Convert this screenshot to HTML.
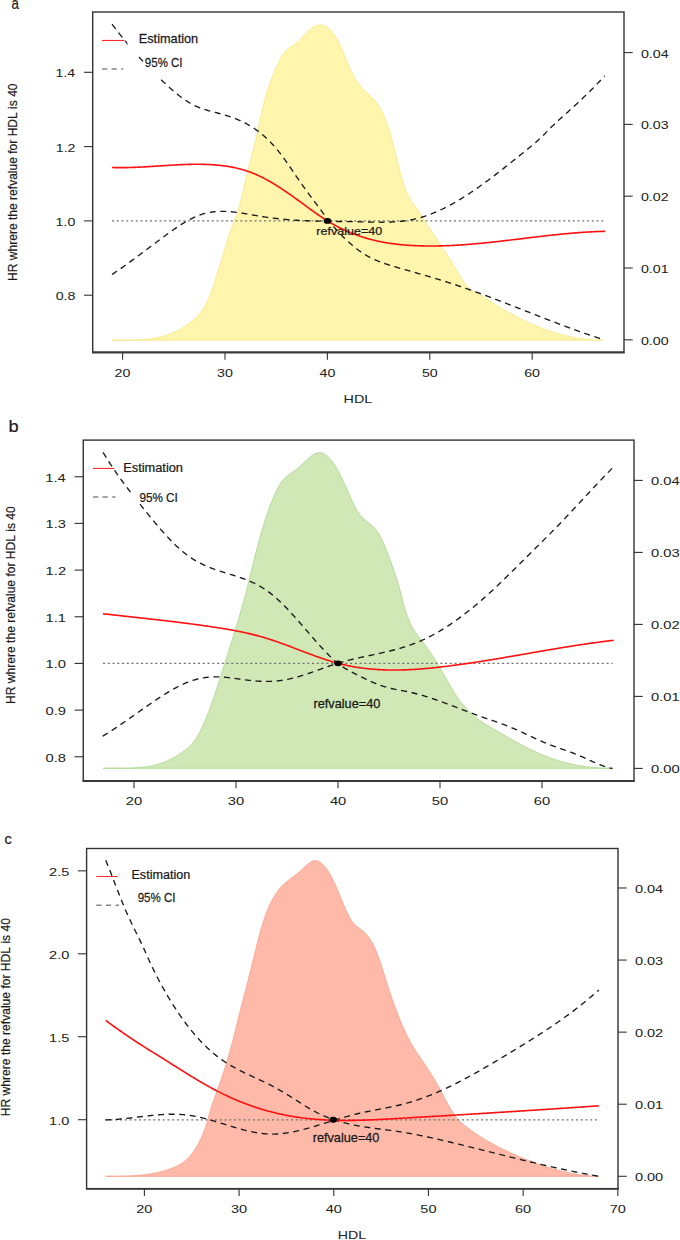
<!DOCTYPE html>
<html><head><meta charset="utf-8"><style>
html,body{margin:0;padding:0;background:#fff;overflow:hidden;width:680px;height:1240px;}
svg{display:block;}
text{font-family:"Liberation Sans",sans-serif;font-kerning:none;}
</style></head><body>
<svg width="680" height="1240" viewBox="0 0 680 1240">
<defs><mask id="ma" maskUnits="userSpaceOnUse" x="0" y="0" width="680" height="1240"><rect x="0" y="0" width="680" height="1240" fill="#fff"/><rect x="127.5" y="28" width="72.5" height="26.299999999999997" fill="#000"/><rect x="144.5" y="54.5" width="40.5" height="24.0" fill="#000"/></mask><mask id="mb" maskUnits="userSpaceOnUse" x="0" y="0" width="680" height="1240"><rect x="0" y="0" width="680" height="1240" fill="#fff"/><rect x="131.8" y="488" width="58.19999999999999" height="15.399999999999977" fill="#000"/></mask></defs>
<rect x="0" y="0" width="680" height="1240" fill="#fff"/>
<path d="M112.00,340.20 L112.50,340.20 L113.00,340.19 L113.50,340.19 L114.00,340.19 L114.50,340.19 L115.00,340.19 L115.50,340.19 L116.00,340.19 L116.50,340.19 L117.00,340.19 L117.50,340.19 L118.00,340.19 L118.50,340.19 L119.00,340.19 L119.50,340.19 L120.00,340.20 L120.50,340.20 L121.00,340.20 L121.50,340.20 L122.00,340.20 L122.50,340.20 L123.00,340.20 L123.50,340.20 L124.00,340.20 L124.50,340.20 L125.00,340.20 L125.50,340.20 L126.00,340.20 L126.50,340.20 L127.00,340.20 L127.50,340.20 L128.00,340.20 L128.50,340.20 L129.00,340.19 L129.50,340.19 L130.00,340.18 L130.50,340.17 L131.00,340.17 L131.50,340.16 L132.00,340.15 L132.50,340.14 L133.00,340.13 L133.50,340.12 L134.00,340.11 L134.50,340.09 L135.00,340.08 L135.50,340.06 L136.00,340.04 L136.50,340.03 L137.00,340.01 L137.50,339.99 L138.00,339.96 L138.50,339.94 L139.00,339.91 L139.50,339.89 L140.00,339.86 L140.50,339.83 L141.00,339.80 L141.50,339.76 L142.00,339.73 L142.50,339.69 L143.00,339.66 L143.50,339.62 L144.00,339.57 L144.50,339.53 L145.00,339.49 L145.50,339.44 L146.00,339.39 L146.50,339.34 L147.00,339.28 L147.50,339.23 L148.00,339.17 L148.50,339.11 L149.00,339.05 L149.50,338.98 L150.00,338.92 L150.50,338.85 L151.00,338.78 L151.50,338.70 L152.00,338.63 L152.50,338.55 L153.00,338.47 L153.50,338.39 L154.00,338.30 L154.50,338.21 L155.00,338.12 L155.50,338.02 L156.00,337.93 L156.50,337.83 L157.00,337.73 L157.50,337.62 L158.00,337.51 L158.50,337.40 L159.00,337.29 L159.50,337.17 L160.00,337.05 L160.50,336.92 L161.00,336.80 L161.50,336.67 L162.00,336.53 L162.50,336.40 L163.00,336.26 L163.50,336.11 L164.00,335.97 L164.50,335.82 L165.00,335.67 L165.50,335.51 L166.00,335.35 L166.50,335.18 L167.00,335.02 L167.50,334.85 L168.00,334.67 L168.50,334.49 L169.00,334.31 L169.50,334.12 L170.00,333.93 L170.50,333.74 L171.00,333.54 L171.50,333.34 L172.00,333.13 L172.50,332.92 L173.00,332.71 L173.50,332.49 L174.00,332.27 L174.50,332.04 L175.00,331.81 L175.50,331.58 L176.00,331.34 L176.50,331.10 L177.00,330.85 L177.50,330.59 L178.00,330.34 L178.50,330.08 L179.00,329.81 L179.50,329.54 L180.00,329.26 L180.50,328.98 L181.00,328.70 L181.50,328.41 L182.00,328.12 L182.50,327.82 L183.00,327.51 L183.50,327.21 L184.00,326.89 L184.50,326.57 L185.00,326.25 L185.50,325.92 L186.00,325.59 L186.50,325.25 L187.00,324.90 L187.50,324.55 L188.00,324.20 L188.50,323.84 L189.00,323.47 L189.50,323.10 L190.00,322.73 L190.50,322.35 L191.00,321.96 L191.50,321.57 L192.00,321.17 L192.50,320.76 L193.00,320.35 L193.50,319.92 L194.00,319.49 L194.50,319.04 L195.00,318.58 L195.50,318.11 L196.00,317.63 L196.50,317.13 L197.00,316.62 L197.50,316.09 L198.00,315.54 L198.50,314.98 L199.00,314.40 L199.50,313.79 L200.00,313.17 L200.50,312.52 L201.00,311.86 L201.50,311.16 L202.00,310.45 L202.50,309.71 L203.00,308.94 L203.50,308.15 L204.00,307.33 L204.50,306.48 L205.00,305.60 L205.50,304.69 L206.00,303.75 L206.50,302.78 L207.00,301.78 L207.50,300.74 L208.00,299.66 L208.50,298.56 L209.00,297.41 L209.50,296.23 L210.00,295.01 L210.50,293.75 L211.00,292.45 L211.50,291.13 L212.00,289.76 L212.50,288.37 L213.00,286.95 L213.50,285.50 L214.00,284.03 L214.50,282.53 L215.00,281.00 L215.50,279.46 L216.00,277.90 L216.50,276.31 L217.00,274.72 L217.50,273.11 L218.00,271.48 L218.50,269.84 L219.00,268.20 L219.50,266.54 L220.00,264.88 L220.50,263.22 L221.00,261.55 L221.50,259.87 L222.00,258.20 L222.50,256.53 L223.00,254.86 L223.50,253.19 L224.00,251.53 L224.50,249.88 L225.00,248.24 L225.50,246.60 L226.00,244.98 L226.50,243.37 L227.00,241.77 L227.50,240.19 L228.00,238.63 L228.50,237.08 L229.00,235.56 L229.50,234.05 L230.00,232.57 L230.50,231.11 L231.00,229.68 L231.50,228.28 L232.00,226.90 L232.50,225.55 L233.00,224.23 L233.50,222.93 L234.00,221.65 L234.50,220.36 L235.00,219.07 L235.50,217.77 L236.00,216.45 L236.50,215.09 L237.00,213.70 L237.50,212.25 L238.00,210.75 L238.50,209.19 L239.00,207.55 L239.50,205.83 L240.00,204.02 L240.50,202.12 L241.00,200.14 L241.50,198.09 L242.00,195.98 L242.50,193.83 L243.00,191.65 L243.50,189.44 L244.00,187.22 L244.50,185.01 L245.00,182.81 L245.50,180.62 L246.00,178.47 L246.50,176.35 L247.00,174.28 L247.50,172.25 L248.00,170.27 L248.50,168.31 L249.00,166.39 L249.50,164.48 L250.00,162.58 L250.50,160.69 L251.00,158.80 L251.50,156.90 L252.00,154.99 L252.50,153.05 L253.00,151.09 L253.50,149.11 L254.00,147.09 L254.50,145.05 L255.00,142.98 L255.50,140.87 L256.00,138.73 L256.50,136.55 L257.00,134.33 L257.50,132.07 L258.00,129.78 L258.50,127.45 L259.00,125.09 L259.50,122.73 L260.00,120.36 L260.50,118.01 L261.00,115.69 L261.50,113.39 L262.00,111.14 L262.50,108.95 L263.00,106.83 L263.50,104.77 L264.00,102.79 L264.50,100.86 L265.00,98.99 L265.50,97.18 L266.00,95.43 L266.50,93.73 L267.00,92.08 L267.50,90.47 L268.00,88.91 L268.50,87.39 L269.00,85.90 L269.50,84.46 L270.00,83.04 L270.50,81.66 L271.00,80.30 L271.50,78.97 L272.00,77.66 L272.50,76.37 L273.00,75.09 L273.50,73.84 L274.00,72.60 L274.50,71.38 L275.00,70.19 L275.50,69.01 L276.00,67.86 L276.50,66.73 L277.00,65.63 L277.50,64.55 L278.00,63.49 L278.50,62.46 L279.00,61.46 L279.50,60.49 L280.00,59.55 L280.50,58.64 L281.00,57.75 L281.50,56.90 L282.00,56.09 L282.50,55.30 L283.00,54.56 L283.50,53.84 L284.00,53.16 L284.50,52.52 L285.00,51.92 L285.50,51.35 L286.00,50.81 L286.50,50.29 L287.00,49.81 L287.50,49.35 L288.00,48.91 L288.50,48.49 L289.00,48.10 L289.50,47.71 L290.00,47.34 L290.50,46.99 L291.00,46.64 L291.50,46.30 L292.00,45.96 L292.50,45.63 L293.00,45.30 L293.50,44.96 L294.00,44.63 L294.50,44.29 L295.00,43.94 L295.50,43.58 L296.00,43.21 L296.50,42.82 L297.00,42.42 L297.50,42.00 L298.00,41.56 L298.50,41.11 L299.00,40.64 L299.50,40.16 L300.00,39.66 L300.50,39.16 L301.00,38.64 L301.50,38.12 L302.00,37.60 L302.50,37.07 L303.00,36.53 L303.50,36.00 L304.00,35.46 L304.50,34.93 L305.00,34.40 L305.50,33.87 L306.00,33.36 L306.50,32.84 L307.00,32.34 L307.50,31.85 L308.00,31.37 L308.50,30.90 L309.00,30.45 L309.50,30.02 L310.00,29.60 L310.50,29.20 L311.00,28.81 L311.50,28.44 L312.00,28.09 L312.50,27.76 L313.00,27.45 L313.50,27.15 L314.00,26.88 L314.50,26.62 L315.00,26.38 L315.50,26.16 L316.00,25.96 L316.50,25.78 L317.00,25.62 L317.50,25.48 L318.00,25.37 L318.50,25.27 L319.00,25.20 L319.50,25.14 L320.00,25.11 L320.50,25.11 L321.00,25.12 L321.50,25.16 L322.00,25.22 L322.50,25.31 L323.00,25.42 L323.50,25.55 L324.00,25.71 L324.50,25.89 L325.00,26.10 L325.50,26.33 L326.00,26.59 L326.50,26.87 L327.00,27.18 L327.50,27.52 L328.00,27.89 L328.50,28.28 L329.00,28.70 L329.50,29.14 L330.00,29.62 L330.50,30.12 L331.00,30.65 L331.50,31.21 L332.00,31.80 L332.50,32.42 L333.00,33.06 L333.50,33.74 L334.00,34.45 L334.50,35.19 L335.00,35.96 L335.50,36.76 L336.00,37.59 L336.50,38.46 L337.00,39.35 L337.50,40.28 L338.00,41.23 L338.50,42.21 L339.00,43.22 L339.50,44.25 L340.00,45.30 L340.50,46.37 L341.00,47.46 L341.50,48.57 L342.00,49.69 L342.50,50.82 L343.00,51.97 L343.50,53.12 L344.00,54.28 L344.50,55.45 L345.00,56.63 L345.50,57.80 L346.00,58.98 L346.50,60.15 L347.00,61.33 L347.50,62.50 L348.00,63.66 L348.50,64.81 L349.00,65.96 L349.50,67.10 L350.00,68.22 L350.50,69.32 L351.00,70.42 L351.50,71.49 L352.00,72.54 L352.50,73.57 L353.00,74.58 L353.50,75.57 L354.00,76.52 L354.50,77.45 L355.00,78.35 L355.50,79.22 L356.00,80.05 L356.50,80.86 L357.00,81.63 L357.50,82.37 L358.00,83.09 L358.50,83.79 L359.00,84.45 L359.50,85.10 L360.00,85.72 L360.50,86.33 L361.00,86.91 L361.50,87.48 L362.00,88.03 L362.50,88.56 L363.00,89.08 L363.50,89.59 L364.00,90.09 L364.50,90.58 L365.00,91.06 L365.50,91.53 L366.00,91.99 L366.50,92.46 L367.00,92.92 L367.50,93.37 L368.00,93.83 L368.50,94.29 L369.00,94.75 L369.50,95.21 L370.00,95.68 L370.50,96.15 L371.00,96.63 L371.50,97.12 L372.00,97.63 L372.50,98.14 L373.00,98.66 L373.50,99.20 L374.00,99.76 L374.50,100.33 L375.00,100.92 L375.50,101.53 L376.00,102.16 L376.50,102.81 L377.00,103.48 L377.50,104.18 L378.00,104.91 L378.50,105.66 L379.00,106.45 L379.50,107.26 L380.00,108.10 L380.50,108.98 L381.00,109.89 L381.50,110.83 L382.00,111.82 L382.50,112.84 L383.00,113.90 L383.50,115.00 L384.00,116.14 L384.50,117.33 L385.00,118.55 L385.50,119.82 L386.00,121.14 L386.50,122.49 L387.00,123.89 L387.50,125.34 L388.00,126.82 L388.50,128.36 L389.00,129.93 L389.50,131.55 L390.00,133.22 L390.50,134.93 L391.00,136.69 L391.50,138.49 L392.00,140.34 L392.50,142.23 L393.00,144.16 L393.50,146.12 L394.00,148.11 L394.50,150.11 L395.00,152.14 L395.50,154.17 L396.00,156.20 L396.50,158.23 L397.00,160.25 L397.50,162.26 L398.00,164.25 L398.50,166.21 L399.00,168.15 L399.50,170.05 L400.00,171.92 L400.50,173.76 L401.00,175.56 L401.50,177.31 L402.00,179.02 L402.50,180.69 L403.00,182.30 L403.50,183.87 L404.00,185.37 L404.50,186.82 L405.00,188.21 L405.50,189.53 L406.00,190.79 L406.50,191.99 L407.00,193.12 L407.50,194.20 L408.00,195.22 L408.50,196.20 L409.00,197.13 L409.50,198.02 L410.00,198.88 L410.50,199.70 L411.00,200.48 L411.50,201.25 L412.00,201.99 L412.50,202.71 L413.00,203.42 L413.50,204.11 L414.00,204.80 L414.50,205.48 L415.00,206.15 L415.50,206.83 L416.00,207.51 L416.50,208.20 L417.00,208.90 L417.50,209.62 L418.00,210.35 L418.50,211.09 L419.00,211.84 L419.50,212.60 L420.00,213.38 L420.50,214.16 L421.00,214.94 L421.50,215.73 L422.00,216.52 L422.50,217.32 L423.00,218.12 L423.50,218.91 L424.00,219.70 L424.50,220.50 L425.00,221.28 L425.50,222.06 L426.00,222.84 L426.50,223.62 L427.00,224.40 L427.50,225.17 L428.00,225.93 L428.50,226.70 L429.00,227.46 L429.50,228.23 L430.00,228.98 L430.50,229.74 L431.00,230.50 L431.50,231.25 L432.00,232.01 L432.50,232.76 L433.00,233.51 L433.50,234.26 L434.00,235.01 L434.50,235.75 L435.00,236.50 L435.50,237.25 L436.00,238.00 L436.50,238.74 L437.00,239.49 L437.50,240.24 L438.00,240.99 L438.50,241.74 L439.00,242.49 L439.50,243.24 L440.00,243.99 L440.50,244.74 L441.00,245.49 L441.50,246.25 L442.00,247.01 L442.50,247.76 L443.00,248.53 L443.50,249.29 L444.00,250.05 L444.50,250.82 L445.00,251.59 L445.50,252.37 L446.00,253.14 L446.50,253.92 L447.00,254.70 L447.50,255.49 L448.00,256.28 L448.50,257.07 L449.00,257.87 L449.50,258.67 L450.00,259.47 L450.50,260.28 L451.00,261.10 L451.50,261.91 L452.00,262.74 L452.50,263.56 L453.00,264.40 L453.50,265.24 L454.00,266.08 L454.50,266.93 L455.00,267.78 L455.50,268.63 L456.00,269.48 L456.50,270.34 L457.00,271.19 L457.50,272.03 L458.00,272.88 L458.50,273.72 L459.00,274.55 L459.50,275.38 L460.00,276.20 L460.50,277.00 L461.00,277.80 L461.50,278.59 L462.00,279.36 L462.50,280.12 L463.00,280.86 L463.50,281.59 L464.00,282.29 L464.50,282.98 L465.00,283.65 L465.50,284.30 L466.00,284.93 L466.50,285.53 L467.00,286.11 L467.50,286.66 L468.00,287.19 L468.50,287.68 L469.00,288.15 L469.50,288.60 L470.00,289.02 L470.50,289.41 L471.00,289.79 L471.50,290.14 L472.00,290.48 L472.50,290.80 L473.00,291.11 L473.50,291.40 L474.00,291.68 L474.50,291.95 L475.00,292.22 L475.50,292.47 L476.00,292.72 L476.50,292.97 L477.00,293.21 L477.50,293.45 L478.00,293.70 L478.50,293.94 L479.00,294.19 L479.50,294.45 L480.00,294.71 L480.50,294.98 L481.00,295.26 L481.50,295.55 L482.00,295.85 L482.50,296.15 L483.00,296.45 L483.50,296.76 L484.00,297.08 L484.50,297.40 L485.00,297.73 L485.50,298.05 L486.00,298.38 L486.50,298.71 L487.00,299.05 L487.50,299.38 L488.00,299.71 L488.50,300.04 L489.00,300.37 L489.50,300.70 L490.00,301.03 L490.50,301.36 L491.00,301.68 L491.50,302.01 L492.00,302.33 L492.50,302.66 L493.00,302.98 L493.50,303.30 L494.00,303.62 L494.50,303.93 L495.00,304.25 L495.50,304.56 L496.00,304.88 L496.50,305.19 L497.00,305.50 L497.50,305.81 L498.00,306.12 L498.50,306.43 L499.00,306.74 L499.50,307.04 L500.00,307.34 L500.50,307.65 L501.00,307.95 L501.50,308.25 L502.00,308.55 L502.50,308.84 L503.00,309.14 L503.50,309.44 L504.00,309.73 L504.50,310.02 L505.00,310.31 L505.50,310.60 L506.00,310.89 L506.50,311.18 L507.00,311.47 L507.50,311.75 L508.00,312.03 L508.50,312.32 L509.00,312.60 L509.50,312.88 L510.00,313.15 L510.50,313.43 L511.00,313.71 L511.50,313.98 L512.00,314.26 L512.50,314.53 L513.00,314.80 L513.50,315.07 L514.00,315.33 L514.50,315.60 L515.00,315.87 L515.50,316.13 L516.00,316.39 L516.50,316.65 L517.00,316.91 L517.50,317.17 L518.00,317.43 L518.50,317.69 L519.00,317.94 L519.50,318.20 L520.00,318.45 L520.50,318.70 L521.00,318.95 L521.50,319.20 L522.00,319.44 L522.50,319.69 L523.00,319.93 L523.50,320.17 L524.00,320.42 L524.50,320.66 L525.00,320.89 L525.50,321.13 L526.00,321.37 L526.50,321.60 L527.00,321.83 L527.50,322.07 L528.00,322.30 L528.50,322.53 L529.00,322.75 L529.50,322.98 L530.00,323.20 L530.50,323.43 L531.00,323.65 L531.50,323.87 L532.00,324.09 L532.50,324.31 L533.00,324.53 L533.50,324.74 L534.00,324.95 L534.50,325.17 L535.00,325.38 L535.50,325.59 L536.00,325.80 L536.50,326.00 L537.00,326.21 L537.50,326.41 L538.00,326.62 L538.50,326.82 L539.00,327.02 L539.50,327.21 L540.00,327.41 L540.50,327.61 L541.00,327.80 L541.50,327.99 L542.00,328.19 L542.50,328.38 L543.00,328.56 L543.50,328.75 L544.00,328.94 L544.50,329.12 L545.00,329.30 L545.50,329.48 L546.00,329.66 L546.50,329.84 L547.00,330.02 L547.50,330.20 L548.00,330.37 L548.50,330.54 L549.00,330.71 L549.50,330.88 L550.00,331.05 L550.50,331.22 L551.00,331.38 L551.50,331.55 L552.00,331.71 L552.50,331.87 L553.00,332.03 L553.50,332.19 L554.00,332.34 L554.50,332.50 L555.00,332.65 L555.50,332.80 L556.00,332.96 L556.50,333.10 L557.00,333.25 L557.50,333.40 L558.00,333.54 L558.50,333.69 L559.00,333.83 L559.50,333.97 L560.00,334.11 L560.50,334.24 L561.00,334.38 L561.50,334.51 L562.00,334.65 L562.50,334.78 L563.00,334.91 L563.50,335.03 L564.00,335.16 L564.50,335.29 L565.00,335.41 L565.50,335.53 L566.00,335.65 L566.50,335.77 L567.00,335.89 L567.50,336.00 L568.00,336.12 L568.50,336.23 L569.00,336.34 L569.50,336.45 L570.00,336.56 L570.50,336.67 L571.00,336.77 L571.50,336.88 L572.00,336.98 L572.50,337.08 L573.00,337.18 L573.50,337.28 L574.00,337.37 L574.50,337.47 L575.00,337.56 L575.50,337.65 L576.00,337.74 L576.50,337.83 L577.00,337.91 L577.50,338.00 L578.00,338.08 L578.50,338.16 L579.00,338.24 L579.50,338.32 L580.00,338.40 L580.50,338.48 L581.00,338.55 L581.50,338.62 L582.00,338.69 L582.50,338.76 L583.00,338.83 L583.50,338.89 L584.00,338.96 L584.50,339.02 L585.00,339.08 L585.50,339.14 L586.00,339.20 L586.50,339.26 L587.00,339.31 L587.50,339.36 L588.00,339.42 L588.50,339.47 L589.00,339.51 L589.50,339.56 L590.00,339.61 L590.50,339.65 L591.00,339.69 L591.50,339.73 L592.00,339.77 L592.50,339.81 L593.00,339.84 L593.50,339.87 L594.00,339.91 L594.50,339.94 L595.00,339.97 L595.50,339.99 L596.00,340.02 L596.50,340.04 L597.00,340.06 L597.50,340.08 L598.00,340.10 L598.50,340.12 L599.00,340.14 L599.50,340.15 L600.00,340.16 L600.50,340.17 L601.00,340.18 L601.50,340.19 L602.00,340.19 L602.50,340.20 L603.00,340.20 L603.00,340.20 L112.00,340.20 Z" fill="#fff5ad" stroke="#f6e67e" stroke-width="0.8"/>
<line x1="112" y1="220.9" x2="604" y2="220.9" stroke="#747474" stroke-width="1.25" stroke-dasharray="2.1 2.65"/>
<path d="M112.10,24.21 L113.10,25.55 L114.10,26.87 L115.11,28.19 L116.11,29.50 L117.11,30.80 L118.11,32.09 L119.11,33.37 L120.11,34.64 L121.12,35.90 L122.12,37.15 L123.12,38.39 L124.12,39.63 L125.12,40.85 L126.13,42.07 L127.13,43.28 L128.13,44.48 L129.13,45.67 L130.13,46.86 L131.13,48.03 L132.14,49.20 L133.14,50.35 L134.14,51.51 L135.14,52.65 L136.14,53.78 L137.15,54.91 L138.15,56.03 L139.15,57.14 L140.15,58.24 L141.15,59.34 L142.16,60.42 L143.16,61.51 L144.16,62.58 L145.16,63.65 L146.16,64.70 L147.16,65.76 L148.17,66.80 L149.17,67.84 L150.17,68.87 L151.17,69.90 L152.17,70.91 L153.18,71.92 L154.18,72.93 L155.18,73.93 L156.18,74.92 L157.18,75.90 L158.18,76.88 L159.19,77.86 L160.19,78.82 L161.19,79.78 L162.19,80.74 L163.19,81.69 L164.20,82.63 L165.20,83.57 L166.20,84.50 L167.20,85.42 L168.20,86.34 L169.20,87.25 L170.21,88.15 L171.21,89.04 L172.21,89.92 L173.21,90.79 L174.21,91.64 L175.22,92.49 L176.22,93.32 L177.22,94.14 L178.22,94.94 L179.22,95.73 L180.22,96.50 L181.23,97.26 L182.23,98.00 L183.23,98.72 L184.23,99.43 L185.23,100.11 L186.24,100.78 L187.24,101.43 L188.24,102.05 L189.24,102.66 L190.24,103.24 L191.25,103.80 L192.25,104.34 L193.25,104.85 L194.25,105.35 L195.25,105.82 L196.25,106.27 L197.26,106.71 L198.26,107.13 L199.26,107.53 L200.26,107.91 L201.26,108.28 L202.27,108.64 L203.27,108.98 L204.27,109.32 L205.27,109.64 L206.27,109.95 L207.27,110.25 L208.28,110.54 L209.28,110.83 L210.28,111.11 L211.28,111.39 L212.28,111.66 L213.29,111.93 L214.29,112.19 L215.29,112.45 L216.29,112.72 L217.29,112.98 L218.29,113.24 L219.30,113.51 L220.30,113.78 L221.30,114.05 L222.30,114.33 L223.30,114.62 L224.31,114.91 L225.31,115.20 L226.31,115.51 L227.31,115.82 L228.31,116.14 L229.31,116.47 L230.32,116.81 L231.32,117.15 L232.32,117.51 L233.32,117.87 L234.32,118.25 L235.33,118.63 L236.33,119.03 L237.33,119.44 L238.33,119.86 L239.33,120.30 L240.34,120.74 L241.34,121.20 L242.34,121.67 L243.34,122.16 L244.34,122.66 L245.34,123.18 L246.35,123.71 L247.35,124.26 L248.35,124.82 L249.35,125.40 L250.35,125.99 L251.36,126.61 L252.36,127.24 L253.36,127.89 L254.36,128.55 L255.36,129.24 L256.36,129.94 L257.37,130.67 L258.37,131.41 L259.37,132.18 L260.37,132.97 L261.37,133.77 L262.38,134.60 L263.38,135.45 L264.38,136.33 L265.38,137.22 L266.38,138.14 L267.38,139.09 L268.39,140.05 L269.39,141.05 L270.39,142.06 L271.39,143.10 L272.39,144.17 L273.40,145.27 L274.40,146.39 L275.40,147.53 L276.40,148.71 L277.40,149.91 L278.40,151.14 L279.41,152.40 L280.41,153.69 L281.41,155.00 L282.41,156.34 L283.41,157.70 L284.42,159.08 L285.42,160.48 L286.42,161.89 L287.42,163.32 L288.42,164.76 L289.43,166.22 L290.43,167.68 L291.43,169.14 L292.43,170.61 L293.43,172.09 L294.43,173.56 L295.44,175.04 L296.44,176.51 L297.44,177.97 L298.44,179.43 L299.44,180.87 L300.45,182.31 L301.45,183.73 L302.45,185.15 L303.45,186.55 L304.45,187.94 L305.45,189.33 L306.46,190.70 L307.46,192.07 L308.46,193.44 L309.46,194.79 L310.46,196.15 L311.47,197.50 L312.47,198.84 L313.47,200.19 L314.47,201.53 L315.47,202.87 L316.47,204.22 L317.48,205.56 L318.48,206.91 L319.48,208.26 L320.48,209.61 L321.48,210.97 L322.49,212.33 L323.49,213.69 L324.49,215.05 L325.49,216.40 L326.49,217.74 L327.49,219.06 L328.50,220.36 L329.50,221.64 L330.50,222.89 L331.50,224.12 L332.50,225.33 L333.51,226.50 L334.51,227.65 L335.51,228.78 L336.51,229.89 L337.51,230.98 L338.52,232.05 L339.52,233.10 L340.52,234.14 L341.52,235.17 L342.52,236.18 L343.52,237.17 L344.53,238.16 L345.53,239.12 L346.53,240.08 L347.53,241.01 L348.53,241.94 L349.54,242.84 L350.54,243.73 L351.54,244.61 L352.54,245.46 L353.54,246.30 L354.54,247.12 L355.55,247.93 L356.55,248.71 L357.55,249.48 L358.55,250.23 L359.55,250.96 L360.56,251.67 L361.56,252.36 L362.56,253.03 L363.56,253.68 L364.56,254.31 L365.56,254.92 L366.57,255.51 L367.57,256.08 L368.57,256.64 L369.57,257.17 L370.57,257.69 L371.58,258.19 L372.58,258.68 L373.58,259.15 L374.58,259.61 L375.58,260.05 L376.58,260.48 L377.59,260.90 L378.59,261.30 L379.59,261.70 L380.59,262.08 L381.59,262.45 L382.60,262.81 L383.60,263.17 L384.60,263.51 L385.60,263.85 L386.60,264.18 L387.61,264.51 L388.61,264.82 L389.61,265.14 L390.61,265.45 L391.61,265.75 L392.61,266.05 L393.62,266.35 L394.62,266.65 L395.62,266.94 L396.62,267.23 L397.62,267.53 L398.63,267.82 L399.63,268.11 L400.63,268.40 L401.63,268.69 L402.63,268.98 L403.63,269.27 L404.64,269.55 L405.64,269.84 L406.64,270.13 L407.64,270.42 L408.64,270.70 L409.65,270.99 L410.65,271.28 L411.65,271.56 L412.65,271.85 L413.65,272.13 L414.65,272.42 L415.66,272.71 L416.66,272.99 L417.66,273.28 L418.66,273.57 L419.66,273.85 L420.67,274.14 L421.67,274.43 L422.67,274.72 L423.67,275.01 L424.67,275.30 L425.67,275.59 L426.68,275.88 L427.68,276.17 L428.68,276.47 L429.68,276.76 L430.68,277.06 L431.69,277.35 L432.69,277.65 L433.69,277.95 L434.69,278.25 L435.69,278.55 L436.70,278.85 L437.70,279.15 L438.70,279.46 L439.70,279.76 L440.70,280.07 L441.70,280.38 L442.71,280.69 L443.71,281.01 L444.71,281.32 L445.71,281.64 L446.71,281.95 L447.72,282.27 L448.72,282.60 L449.72,282.92 L450.72,283.25 L451.72,283.57 L452.72,283.90 L453.73,284.23 L454.73,284.57 L455.73,284.90 L456.73,285.24 L457.73,285.57 L458.74,285.91 L459.74,286.25 L460.74,286.60 L461.74,286.94 L462.74,287.28 L463.74,287.63 L464.75,287.98 L465.75,288.33 L466.75,288.68 L467.75,289.03 L468.75,289.39 L469.76,289.74 L470.76,290.10 L471.76,290.46 L472.76,290.82 L473.76,291.18 L474.76,291.54 L475.77,291.90 L476.77,292.27 L477.77,292.63 L478.77,293.00 L479.77,293.36 L480.78,293.73 L481.78,294.10 L482.78,294.47 L483.78,294.85 L484.78,295.22 L485.79,295.59 L486.79,295.97 L487.79,296.34 L488.79,296.72 L489.79,297.10 L490.79,297.47 L491.80,297.85 L492.80,298.23 L493.80,298.61 L494.80,299.00 L495.80,299.38 L496.81,299.76 L497.81,300.14 L498.81,300.53 L499.81,300.91 L500.81,301.30 L501.81,301.68 L502.82,302.07 L503.82,302.46 L504.82,302.85 L505.82,303.23 L506.82,303.62 L507.83,304.01 L508.83,304.40 L509.83,304.79 L510.83,305.18 L511.83,305.57 L512.83,305.96 L513.84,306.35 L514.84,306.75 L515.84,307.14 L516.84,307.53 L517.84,307.92 L518.85,308.31 L519.85,308.71 L520.85,309.10 L521.85,309.49 L522.85,309.88 L523.85,310.28 L524.86,310.67 L525.86,311.06 L526.86,311.46 L527.86,311.85 L528.86,312.24 L529.87,312.64 L530.87,313.03 L531.87,313.42 L532.87,313.81 L533.87,314.21 L534.88,314.60 L535.88,314.99 L536.88,315.38 L537.88,315.77 L538.88,316.16 L539.88,316.55 L540.89,316.95 L541.89,317.34 L542.89,317.73 L543.89,318.11 L544.89,318.50 L545.90,318.89 L546.90,319.28 L547.90,319.67 L548.90,320.05 L549.90,320.44 L550.90,320.83 L551.91,321.21 L552.91,321.60 L553.91,321.98 L554.91,322.36 L555.91,322.74 L556.92,323.13 L557.92,323.51 L558.92,323.89 L559.92,324.27 L560.92,324.65 L561.92,325.02 L562.93,325.40 L563.93,325.78 L564.93,326.15 L565.93,326.53 L566.93,326.90 L567.94,327.27 L568.94,327.64 L569.94,328.01 L570.94,328.38 L571.94,328.75 L572.94,329.12 L573.95,329.48 L574.95,329.85 L575.95,330.21 L576.95,330.57 L577.95,330.93 L578.96,331.29 L579.96,331.65 L580.96,332.01 L581.96,332.37 L582.96,332.72 L583.97,333.07 L584.97,333.43 L585.97,333.78 L586.97,334.13 L587.97,334.47 L588.97,334.82 L589.98,335.16 L590.98,335.51 L591.98,335.85 L592.98,336.19 L593.98,336.53 L594.99,336.86 L595.99,337.20 L596.99,337.53 L597.99,337.86 L598.99,338.19 L599.99,338.52 L601.00,338.85 L602.00,339.17 L603.00,339.50" fill="none" stroke="#1a1a1a" stroke-width="1.35" stroke-dasharray="6 4.6" mask="url(#ma)"/>
<path d="M112.00,274.50 L113.00,273.83 L114.00,273.16 L115.00,272.49 L116.01,271.81 L117.01,271.12 L118.01,270.43 L119.01,269.74 L120.01,269.04 L121.01,268.34 L122.01,267.64 L123.02,266.93 L124.02,266.22 L125.02,265.50 L126.02,264.78 L127.02,264.06 L128.02,263.34 L129.02,262.61 L130.03,261.88 L131.03,261.15 L132.03,260.41 L133.03,259.67 L134.03,258.93 L135.03,258.19 L136.03,257.45 L137.04,256.71 L138.04,255.96 L139.04,255.21 L140.04,254.46 L141.04,253.71 L142.04,252.96 L143.04,252.21 L144.05,251.46 L145.05,250.70 L146.05,249.95 L147.05,249.20 L148.05,248.44 L149.05,247.69 L150.05,246.93 L151.06,246.18 L152.06,245.43 L153.06,244.67 L154.06,243.92 L155.06,243.17 L156.06,242.42 L157.06,241.67 L158.07,240.93 L159.07,240.18 L160.07,239.43 L161.07,238.69 L162.07,237.95 L163.07,237.21 L164.07,236.47 L165.08,235.74 L166.08,235.01 L167.08,234.28 L168.08,233.55 L169.08,232.82 L170.08,232.10 L171.08,231.39 L172.09,230.68 L173.09,229.97 L174.09,229.27 L175.09,228.58 L176.09,227.89 L177.09,227.21 L178.09,226.54 L179.10,225.88 L180.10,225.22 L181.10,224.58 L182.10,223.94 L183.10,223.32 L184.10,222.71 L185.10,222.11 L186.11,221.52 L187.11,220.95 L188.11,220.38 L189.11,219.84 L190.11,219.30 L191.11,218.78 L192.11,218.28 L193.12,217.79 L194.12,217.32 L195.12,216.87 L196.12,216.43 L197.12,216.01 L198.12,215.61 L199.12,215.23 L200.13,214.87 L201.13,214.53 L202.13,214.21 L203.13,213.91 L204.13,213.63 L205.13,213.36 L206.13,213.12 L207.14,212.89 L208.14,212.68 L209.14,212.48 L210.14,212.31 L211.14,212.15 L212.14,212.00 L213.14,211.87 L214.15,211.76 L215.15,211.66 L216.15,211.57 L217.15,211.50 L218.15,211.45 L219.15,211.40 L220.15,211.37 L221.16,211.35 L222.16,211.35 L223.16,211.35 L224.16,211.37 L225.16,211.39 L226.16,211.43 L227.16,211.48 L228.17,211.54 L229.17,211.61 L230.17,211.68 L231.17,211.77 L232.17,211.86 L233.17,211.96 L234.17,212.07 L235.18,212.18 L236.18,212.31 L237.18,212.43 L238.18,212.57 L239.18,212.71 L240.18,212.85 L241.18,213.00 L242.18,213.16 L243.19,213.32 L244.19,213.48 L245.19,213.64 L246.19,213.81 L247.19,213.98 L248.19,214.16 L249.19,214.33 L250.20,214.51 L251.20,214.68 L252.20,214.86 L253.20,215.04 L254.20,215.22 L255.20,215.39 L256.20,215.57 L257.21,215.74 L258.21,215.92 L259.21,216.09 L260.21,216.26 L261.21,216.42 L262.21,216.58 L263.21,216.74 L264.22,216.90 L265.22,217.05 L266.22,217.20 L267.22,217.34 L268.22,217.48 L269.22,217.62 L270.22,217.75 L271.23,217.89 L272.23,218.01 L273.23,218.14 L274.23,218.26 L275.23,218.38 L276.23,218.49 L277.23,218.60 L278.24,218.71 L279.24,218.82 L280.24,218.92 L281.24,219.02 L282.24,219.12 L283.24,219.21 L284.24,219.30 L285.25,219.39 L286.25,219.48 L287.25,219.56 L288.25,219.64 L289.25,219.72 L290.25,219.80 L291.25,219.87 L292.26,219.95 L293.26,220.01 L294.26,220.08 L295.26,220.15 L296.26,220.21 L297.26,220.27 L298.26,220.33 L299.27,220.38 L300.27,220.44 L301.27,220.49 L302.27,220.54 L303.27,220.59 L304.27,220.64 L305.27,220.68 L306.28,220.73 L307.28,220.77 L308.28,220.81 L309.28,220.85 L310.28,220.88 L311.28,220.92 L312.28,220.95 L313.29,220.99 L314.29,221.02 L315.29,221.05 L316.29,221.08 L317.29,221.10 L318.29,221.13 L319.29,221.16 L320.30,221.18 L321.30,221.20 L322.30,221.23 L323.30,221.25 L324.30,221.27 L325.30,221.29 L326.30,221.31 L327.31,221.33 L328.31,221.34 L329.31,221.36 L330.31,221.38 L331.31,221.39 L332.31,221.41 L333.31,221.42 L334.32,221.44 L335.32,221.45 L336.32,221.47 L337.32,221.48 L338.32,221.49 L339.32,221.51 L340.32,221.52 L341.33,221.53 L342.33,221.54 L343.33,221.56 L344.33,221.57 L345.33,221.58 L346.33,221.60 L347.33,221.61 L348.34,221.62 L349.34,221.64 L350.34,221.65 L351.34,221.67 L352.34,221.68 L353.34,221.70 L354.34,221.71 L355.35,221.73 L356.35,221.75 L357.35,221.77 L358.35,221.78 L359.35,221.80 L360.35,221.82 L361.35,221.84 L362.36,221.87 L363.36,221.89 L364.36,221.91 L365.36,221.94 L366.36,221.96 L367.36,221.98 L368.36,222.01 L369.37,222.03 L370.37,222.05 L371.37,222.08 L372.37,222.10 L373.37,222.12 L374.37,222.13 L375.37,222.15 L376.38,222.16 L377.38,222.18 L378.38,222.19 L379.38,222.19 L380.38,222.20 L381.38,222.20 L382.38,222.20 L383.39,222.19 L384.39,222.18 L385.39,222.17 L386.39,222.15 L387.39,222.13 L388.39,222.10 L389.39,222.07 L390.40,222.04 L391.40,221.99 L392.40,221.95 L393.40,221.90 L394.40,221.84 L395.40,221.77 L396.40,221.70 L397.41,221.63 L398.41,221.54 L399.41,221.45 L400.41,221.36 L401.41,221.25 L402.41,221.14 L403.41,221.02 L404.42,220.89 L405.42,220.75 L406.42,220.61 L407.42,220.46 L408.42,220.29 L409.42,220.12 L410.42,219.94 L411.43,219.75 L412.43,219.55 L413.43,219.34 L414.43,219.12 L415.43,218.89 L416.43,218.65 L417.43,218.40 L418.44,218.14 L419.44,217.87 L420.44,217.58 L421.44,217.29 L422.44,216.99 L423.44,216.68 L424.44,216.36 L425.45,216.03 L426.45,215.69 L427.45,215.34 L428.45,214.98 L429.45,214.61 L430.45,214.23 L431.45,213.84 L432.46,213.45 L433.46,213.04 L434.46,212.63 L435.46,212.21 L436.46,211.77 L437.46,211.34 L438.46,210.89 L439.47,210.43 L440.47,209.97 L441.47,209.49 L442.47,209.01 L443.47,208.53 L444.47,208.03 L445.47,207.52 L446.48,207.01 L447.48,206.49 L448.48,205.97 L449.48,205.43 L450.48,204.89 L451.48,204.34 L452.48,203.79 L453.49,203.23 L454.49,202.66 L455.49,202.08 L456.49,201.50 L457.49,200.91 L458.49,200.31 L459.49,199.71 L460.50,199.10 L461.50,198.49 L462.50,197.87 L463.50,197.24 L464.50,196.61 L465.50,195.97 L466.50,195.33 L467.51,194.68 L468.51,194.03 L469.51,193.37 L470.51,192.70 L471.51,192.03 L472.51,191.35 L473.51,190.67 L474.52,189.99 L475.52,189.30 L476.52,188.60 L477.52,187.90 L478.52,187.20 L479.52,186.49 L480.52,185.78 L481.53,185.06 L482.53,184.34 L483.53,183.61 L484.53,182.88 L485.53,182.15 L486.53,181.41 L487.53,180.67 L488.53,179.93 L489.54,179.18 L490.54,178.43 L491.54,177.67 L492.54,176.92 L493.54,176.15 L494.54,175.39 L495.54,174.62 L496.55,173.86 L497.55,173.08 L498.55,172.31 L499.55,171.53 L500.55,170.75 L501.55,169.97 L502.55,169.19 L503.56,168.40 L504.56,167.61 L505.56,166.82 L506.56,166.03 L507.56,165.24 L508.56,164.44 L509.56,163.65 L510.57,162.85 L511.57,162.05 L512.57,161.25 L513.57,160.45 L514.57,159.65 L515.57,158.84 L516.57,158.04 L517.58,157.23 L518.58,156.43 L519.58,155.62 L520.58,154.81 L521.58,154.01 L522.58,153.20 L523.58,152.39 L524.59,151.59 L525.59,150.78 L526.59,149.97 L527.59,149.15 L528.59,148.34 L529.59,147.51 L530.59,146.69 L531.60,145.85 L532.60,145.01 L533.60,144.16 L534.60,143.30 L535.60,142.42 L536.60,141.54 L537.60,140.64 L538.61,139.73 L539.61,138.80 L540.61,137.86 L541.61,136.90 L542.61,135.92 L543.61,134.92 L544.61,133.91 L545.62,132.88 L546.62,131.85 L547.62,130.82 L548.62,129.81 L549.62,128.81 L550.62,127.82 L551.62,126.84 L552.63,125.88 L553.63,124.92 L554.63,123.98 L555.63,123.04 L556.63,122.11 L557.63,121.19 L558.63,120.27 L559.64,119.36 L560.64,118.45 L561.64,117.55 L562.64,116.65 L563.64,115.74 L564.64,114.84 L565.64,113.94 L566.65,113.04 L567.65,112.13 L568.65,111.23 L569.65,110.32 L570.65,109.41 L571.65,108.49 L572.65,107.58 L573.66,106.66 L574.66,105.74 L575.66,104.82 L576.66,103.89 L577.66,102.96 L578.66,102.03 L579.66,101.09 L580.67,100.15 L581.67,99.20 L582.67,98.26 L583.67,97.30 L584.67,96.34 L585.67,95.38 L586.67,94.41 L587.68,93.44 L588.68,92.46 L589.68,91.47 L590.68,90.48 L591.68,89.49 L592.68,88.48 L593.68,87.47 L594.69,86.46 L595.69,85.44 L596.69,84.41 L597.69,83.37 L598.69,82.33 L599.69,81.28 L600.69,80.22 L601.70,79.15 L602.70,78.07 L603.70,76.99 L604.70,75.90" fill="none" stroke="#1a1a1a" stroke-width="1.35" stroke-dasharray="6 4.6" mask="url(#ma)"/>
<path d="M112.00,167.49 L113.00,167.53 L114.00,167.56 L115.00,167.58 L116.00,167.60 L117.00,167.62 L118.00,167.63 L119.00,167.64 L120.00,167.64 L121.00,167.64 L122.00,167.64 L123.00,167.64 L124.00,167.63 L125.01,167.61 L126.01,167.60 L127.01,167.58 L128.01,167.56 L129.01,167.54 L130.01,167.51 L131.01,167.48 L132.01,167.45 L133.01,167.41 L134.01,167.38 L135.01,167.34 L136.01,167.30 L137.01,167.26 L138.01,167.21 L139.01,167.16 L140.01,167.11 L141.01,167.06 L142.01,167.01 L143.01,166.96 L144.01,166.90 L145.01,166.85 L146.01,166.79 L147.01,166.73 L148.01,166.67 L149.02,166.61 L150.02,166.54 L151.02,166.48 L152.02,166.42 L153.02,166.35 L154.02,166.29 L155.02,166.22 L156.02,166.16 L157.02,166.09 L158.02,166.03 L159.02,165.96 L160.02,165.89 L161.02,165.83 L162.02,165.76 L163.02,165.70 L164.02,165.63 L165.02,165.57 L166.02,165.50 L167.02,165.44 L168.02,165.38 L169.02,165.31 L170.02,165.25 L171.02,165.19 L172.02,165.13 L173.02,165.07 L174.03,165.02 L175.03,164.96 L176.03,164.91 L177.03,164.86 L178.03,164.81 L179.03,164.76 L180.03,164.71 L181.03,164.67 L182.03,164.62 L183.03,164.58 L184.03,164.54 L185.03,164.51 L186.03,164.47 L187.03,164.44 L188.03,164.41 L189.03,164.38 L190.03,164.36 L191.03,164.34 L192.03,164.32 L193.03,164.31 L194.03,164.29 L195.03,164.29 L196.03,164.28 L197.03,164.28 L198.03,164.28 L199.04,164.28 L200.04,164.29 L201.04,164.31 L202.04,164.32 L203.04,164.34 L204.04,164.37 L205.04,164.39 L206.04,164.43 L207.04,164.46 L208.04,164.50 L209.04,164.55 L210.04,164.60 L211.04,164.65 L212.04,164.71 L213.04,164.78 L214.04,164.85 L215.04,164.92 L216.04,165.00 L217.04,165.09 L218.04,165.18 L219.04,165.28 L220.04,165.38 L221.04,165.49 L222.04,165.60 L223.05,165.73 L224.05,165.86 L225.05,165.99 L226.05,166.13 L227.05,166.28 L228.05,166.44 L229.05,166.61 L230.05,166.78 L231.05,166.96 L232.05,167.15 L233.05,167.34 L234.05,167.55 L235.05,167.76 L236.05,167.99 L237.05,168.22 L238.05,168.46 L239.05,168.71 L240.05,168.97 L241.05,169.23 L242.05,169.51 L243.05,169.80 L244.05,170.10 L245.05,170.41 L246.05,170.73 L247.05,171.06 L248.06,171.40 L249.06,171.75 L250.06,172.11 L251.06,172.48 L252.06,172.87 L253.06,173.26 L254.06,173.67 L255.06,174.09 L256.06,174.52 L257.06,174.97 L258.06,175.42 L259.06,175.88 L260.06,176.36 L261.06,176.84 L262.06,177.34 L263.06,177.84 L264.06,178.35 L265.06,178.88 L266.06,179.41 L267.06,179.95 L268.06,180.50 L269.06,181.06 L270.06,181.63 L271.06,182.21 L272.06,182.80 L273.07,183.39 L274.07,183.99 L275.07,184.60 L276.07,185.21 L277.07,185.84 L278.07,186.47 L279.07,187.10 L280.07,187.75 L281.07,188.40 L282.07,189.05 L283.07,189.71 L284.07,190.38 L285.07,191.06 L286.07,191.73 L287.07,192.42 L288.07,193.11 L289.07,193.80 L290.07,194.50 L291.07,195.20 L292.07,195.91 L293.07,196.62 L294.07,197.34 L295.07,198.06 L296.07,198.78 L297.08,199.50 L298.08,200.23 L299.08,200.96 L300.08,201.70 L301.08,202.43 L302.08,203.16 L303.08,203.90 L304.08,204.64 L305.08,205.37 L306.08,206.11 L307.08,206.84 L308.08,207.57 L309.08,208.30 L310.08,209.03 L311.08,209.76 L312.08,210.48 L313.08,211.20 L314.08,211.91 L315.08,212.63 L316.08,213.33 L317.08,214.03 L318.08,214.73 L319.08,215.42 L320.08,216.10 L321.08,216.78 L322.09,217.45 L323.09,218.11 L324.09,218.76 L325.09,219.41 L326.09,220.04 L327.09,220.67 L328.09,221.29 L329.09,221.89 L330.09,222.49 L331.09,223.08 L332.09,223.66 L333.09,224.23 L334.09,224.79 L335.09,225.33 L336.09,225.88 L337.09,226.41 L338.09,226.93 L339.09,227.44 L340.09,227.95 L341.09,228.44 L342.09,228.93 L343.09,229.40 L344.09,229.87 L345.09,230.33 L346.09,230.78 L347.10,231.23 L348.10,231.66 L349.10,232.09 L350.10,232.51 L351.10,232.92 L352.10,233.32 L353.10,233.71 L354.10,234.10 L355.10,234.47 L356.10,234.84 L357.10,235.21 L358.10,235.56 L359.10,235.91 L360.10,236.25 L361.10,236.58 L362.10,236.91 L363.10,237.22 L364.10,237.53 L365.10,237.84 L366.10,238.13 L367.10,238.42 L368.10,238.71 L369.10,238.98 L370.10,239.25 L371.11,239.51 L372.11,239.77 L373.11,240.02 L374.11,240.26 L375.11,240.50 L376.11,240.73 L377.11,240.95 L378.11,241.17 L379.11,241.38 L380.11,241.59 L381.11,241.79 L382.11,241.99 L383.11,242.17 L384.11,242.36 L385.11,242.54 L386.11,242.71 L387.11,242.87 L388.11,243.04 L389.11,243.19 L390.11,243.34 L391.11,243.49 L392.11,243.63 L393.11,243.77 L394.11,243.90 L395.11,244.02 L396.12,244.14 L397.12,244.26 L398.12,244.37 L399.12,244.48 L400.12,244.58 L401.12,244.68 L402.12,244.78 L403.12,244.87 L404.12,244.96 L405.12,245.04 L406.12,245.12 L407.12,245.19 L408.12,245.26 L409.12,245.33 L410.12,245.39 L411.12,245.45 L412.12,245.51 L413.12,245.56 L414.12,245.61 L415.12,245.66 L416.12,245.70 L417.12,245.74 L418.12,245.78 L419.12,245.81 L420.12,245.84 L421.13,245.87 L422.13,245.90 L423.13,245.92 L424.13,245.94 L425.13,245.96 L426.13,245.97 L427.13,245.98 L428.13,245.99 L429.13,245.99 L430.13,246.00 L431.13,246.00 L432.13,246.00 L433.13,245.99 L434.13,245.98 L435.13,245.97 L436.13,245.96 L437.13,245.94 L438.13,245.93 L439.13,245.91 L440.13,245.88 L441.13,245.86 L442.13,245.83 L443.13,245.80 L444.13,245.77 L445.14,245.74 L446.14,245.70 L447.14,245.66 L448.14,245.62 L449.14,245.58 L450.14,245.53 L451.14,245.49 L452.14,245.44 L453.14,245.39 L454.14,245.33 L455.14,245.28 L456.14,245.22 L457.14,245.16 L458.14,245.10 L459.14,245.04 L460.14,244.97 L461.14,244.91 L462.14,244.84 L463.14,244.77 L464.14,244.70 L465.14,244.62 L466.14,244.55 L467.14,244.47 L468.14,244.39 L469.14,244.31 L470.15,244.23 L471.15,244.15 L472.15,244.07 L473.15,243.98 L474.15,243.89 L475.15,243.80 L476.15,243.71 L477.15,243.62 L478.15,243.53 L479.15,243.44 L480.15,243.34 L481.15,243.25 L482.15,243.15 L483.15,243.05 L484.15,242.95 L485.15,242.85 L486.15,242.75 L487.15,242.64 L488.15,242.54 L489.15,242.44 L490.15,242.33 L491.15,242.22 L492.15,242.12 L493.15,242.01 L494.15,241.90 L495.16,241.79 L496.16,241.68 L497.16,241.56 L498.16,241.45 L499.16,241.34 L500.16,241.22 L501.16,241.11 L502.16,241.00 L503.16,240.88 L504.16,240.76 L505.16,240.65 L506.16,240.53 L507.16,240.41 L508.16,240.29 L509.16,240.17 L510.16,240.06 L511.16,239.94 L512.16,239.82 L513.16,239.70 L514.16,239.58 L515.16,239.46 L516.16,239.34 L517.16,239.22 L518.16,239.09 L519.17,238.97 L520.17,238.85 L521.17,238.73 L522.17,238.61 L523.17,238.49 L524.17,238.37 L525.17,238.25 L526.17,238.13 L527.17,238.00 L528.17,237.88 L529.17,237.76 L530.17,237.64 L531.17,237.52 L532.17,237.40 L533.17,237.28 L534.17,237.16 L535.17,237.05 L536.17,236.93 L537.17,236.81 L538.17,236.69 L539.17,236.57 L540.17,236.46 L541.17,236.34 L542.17,236.22 L543.17,236.11 L544.18,236.00 L545.18,235.88 L546.18,235.77 L547.18,235.66 L548.18,235.54 L549.18,235.43 L550.18,235.32 L551.18,235.21 L552.18,235.10 L553.18,235.00 L554.18,234.89 L555.18,234.78 L556.18,234.68 L557.18,234.58 L558.18,234.47 L559.18,234.37 L560.18,234.27 L561.18,234.17 L562.18,234.07 L563.18,233.97 L564.18,233.88 L565.18,233.78 L566.18,233.69 L567.18,233.60 L568.18,233.51 L569.19,233.42 L570.19,233.33 L571.19,233.24 L572.19,233.16 L573.19,233.07 L574.19,232.99 L575.19,232.91 L576.19,232.83 L577.19,232.75 L578.19,232.67 L579.19,232.60 L580.19,232.52 L581.19,232.45 L582.19,232.38 L583.19,232.32 L584.19,232.25 L585.19,232.18 L586.19,232.12 L587.19,232.06 L588.19,232.00 L589.19,231.94 L590.19,231.89 L591.19,231.84 L592.19,231.79 L593.20,231.74 L594.20,231.69 L595.20,231.64 L596.20,231.60 L597.20,231.56 L598.20,231.52 L599.20,231.49 L600.20,231.45 L601.20,231.42 L602.20,231.39 L603.20,231.36 L604.20,231.34 L605.20,231.32" fill="none" stroke="#ff1010" stroke-width="1.6"/>
<ellipse cx="327.5" cy="220.9" rx="3.8" ry="2.9" fill="#000"/>
<rect x="92.7" y="12" width="531.3" height="340.2" fill="none" stroke="#333" stroke-width="1.4"/>
<line x1="92.0" y1="352.5" x2="624.7" y2="352.5" stroke="#3a3a3a" stroke-width="1.8"/>
<line x1="122.60" y1="352.2" x2="122.60" y2="359.7" stroke="#333" stroke-width="1.1"/>
<text transform="matrix(1.3400,0,0,1,114.62,376.95)" font-size="10.60" fill="#222">20</text>
<line x1="225.00" y1="352.2" x2="225.00" y2="359.7" stroke="#333" stroke-width="1.1"/>
<text transform="matrix(1.3400,0,0,1,217.11,376.95)" font-size="10.60" fill="#222">30</text>
<line x1="327.40" y1="352.2" x2="327.40" y2="359.7" stroke="#333" stroke-width="1.1"/>
<text transform="matrix(1.3400,0,0,1,319.61,376.95)" font-size="10.60" fill="#222">40</text>
<line x1="429.80" y1="352.2" x2="429.80" y2="359.7" stroke="#333" stroke-width="1.1"/>
<text transform="matrix(1.3400,0,0,1,421.89,376.95)" font-size="10.60" fill="#222">50</text>
<line x1="532.20" y1="352.2" x2="532.20" y2="359.7" stroke="#333" stroke-width="1.1"/>
<text transform="matrix(1.3400,0,0,1,524.22,376.95)" font-size="10.60" fill="#222">60</text>
<line x1="84.00" y1="295.20" x2="92.7" y2="295.20" stroke="#333" stroke-width="1.1"/>
<text transform="matrix(1.3400,0,0,1,55.67,300.15)" font-size="10.60" fill="#222">0.8</text>
<line x1="84.00" y1="220.90" x2="92.7" y2="220.90" stroke="#333" stroke-width="1.1"/>
<text transform="matrix(1.3400,0,0,1,55.61,225.85)" font-size="10.60" fill="#222">1.0</text>
<line x1="84.00" y1="146.60" x2="92.7" y2="146.60" stroke="#333" stroke-width="1.1"/>
<text transform="matrix(1.3400,0,0,1,55.77,151.60)" font-size="10.60" fill="#222">1.2</text>
<line x1="84.00" y1="72.30" x2="92.7" y2="72.30" stroke="#333" stroke-width="1.1"/>
<text transform="matrix(1.3400,0,0,1,55.47,77.25)" font-size="10.60" fill="#222">1.4</text>
<line x1="624" y1="339.80" x2="632.70" y2="339.80" stroke="#333" stroke-width="1.1"/>
<text transform="matrix(1.3400,0,0,1,640.95,344.85)" font-size="10.60" fill="#222">0.00</text>
<line x1="624" y1="268.00" x2="632.70" y2="268.00" stroke="#333" stroke-width="1.1"/>
<text transform="matrix(1.3400,0,0,1,640.95,273.05)" font-size="10.60" fill="#222">0.01</text>
<line x1="624" y1="196.20" x2="632.70" y2="196.20" stroke="#333" stroke-width="1.1"/>
<text transform="matrix(1.3400,0,0,1,640.95,201.25)" font-size="10.60" fill="#222">0.02</text>
<line x1="624" y1="124.40" x2="632.70" y2="124.40" stroke="#333" stroke-width="1.1"/>
<text transform="matrix(1.3400,0,0,1,640.95,129.45)" font-size="10.60" fill="#222">0.03</text>
<line x1="624" y1="52.60" x2="632.70" y2="52.60" stroke="#333" stroke-width="1.1"/>
<text transform="matrix(1.3400,0,0,1,640.95,57.65)" font-size="10.60" fill="#222">0.04</text>
<text transform="matrix(1.2844,0,0,1,343.52,403.00)" font-size="11.19" fill="#222">HDL</text>
<line x1="102" y1="40.45" x2="124.5" y2="40.45" stroke="#ff2a2a" stroke-width="1.05"/>
<line x1="102" y1="69" x2="123.3" y2="69" stroke="#888" stroke-width="1.6" stroke-dasharray="5.2 4.4"/>
<text transform="matrix(0.9578,0,0,1,138.75,43.47)" font-size="13.30" fill="#1a1a1a" stroke="#1a1a1a" stroke-width="0.25">Estimation</text>
<text transform="matrix(0.8644,0,0,1,144.86,66.77)" font-size="13.30" fill="#1a1a1a" stroke="#1a1a1a" stroke-width="0.25">95% CI</text>
<text transform="matrix(1.0891,0,0,1,316.26,235.49)" font-size="11.57" fill="#1a1a1a" stroke="#1a1a1a" stroke-width="0.25">refvalue=40</text>
<text transform="translate(17.40,280.89) rotate(-90) scale(0.9011,1)" font-size="13.37" fill="#1a1a1a" stroke="#1a1a1a" stroke-width="0.2">HR whrere the refvalue for HDL is 40</text>
<text transform="matrix(0.8058,0,0,1,11.44,8.64)" font-size="16.43" fill="#1a1a1a" stroke="#1a1a1a" stroke-width="0.2">a</text>
<path d="M103.25,768.30 L103.75,768.28 L104.25,768.27 L104.75,768.25 L105.25,768.24 L105.75,768.22 L106.25,768.21 L106.75,768.20 L107.25,768.19 L107.75,768.18 L108.25,768.17 L108.75,768.16 L109.25,768.16 L109.75,768.15 L110.25,768.15 L110.76,768.14 L111.26,768.14 L111.76,768.13 L112.26,768.13 L112.76,768.13 L113.26,768.13 L113.76,768.13 L114.26,768.13 L114.76,768.12 L115.26,768.12 L115.76,768.12 L116.26,768.12 L116.76,768.12 L117.26,768.12 L117.76,768.13 L118.26,768.13 L118.76,768.13 L119.26,768.13 L119.76,768.13 L120.26,768.13 L120.76,768.13 L121.26,768.13 L121.76,768.12 L122.26,768.12 L122.76,768.12 L123.26,768.12 L123.76,768.12 L124.26,768.11 L124.76,768.11 L125.27,768.11 L125.77,768.10 L126.27,768.10 L126.77,768.09 L127.27,768.08 L127.77,768.07 L128.27,768.06 L128.77,768.05 L129.27,768.04 L129.77,768.03 L130.27,768.02 L130.77,768.00 L131.27,767.99 L131.77,767.97 L132.27,767.95 L132.77,767.93 L133.27,767.91 L133.77,767.89 L134.27,767.87 L134.77,767.84 L135.27,767.82 L135.77,767.79 L136.27,767.76 L136.77,767.73 L137.27,767.69 L137.77,767.66 L138.27,767.62 L138.77,767.58 L139.27,767.54 L139.78,767.50 L140.28,767.45 L140.78,767.41 L141.28,767.36 L141.78,767.31 L142.28,767.26 L142.78,767.20 L143.28,767.14 L143.78,767.08 L144.28,767.02 L144.78,766.96 L145.28,766.89 L145.78,766.82 L146.28,766.75 L146.78,766.67 L147.28,766.60 L147.78,766.52 L148.28,766.43 L148.78,766.35 L149.28,766.26 L149.78,766.17 L150.28,766.07 L150.78,765.98 L151.28,765.88 L151.78,765.77 L152.28,765.67 L152.78,765.56 L153.28,765.44 L153.78,765.33 L154.29,765.21 L154.79,765.09 L155.29,764.96 L155.79,764.83 L156.29,764.70 L156.79,764.56 L157.29,764.42 L157.79,764.28 L158.29,764.13 L158.79,763.98 L159.29,763.83 L159.79,763.67 L160.29,763.51 L160.79,763.34 L161.29,763.17 L161.79,763.00 L162.29,762.82 L162.79,762.64 L163.29,762.45 L163.79,762.26 L164.29,762.07 L164.79,761.87 L165.29,761.67 L165.79,761.46 L166.29,761.25 L166.79,761.03 L167.29,760.81 L167.79,760.59 L168.29,760.36 L168.80,760.12 L169.30,759.89 L169.80,759.64 L170.30,759.40 L170.80,759.15 L171.30,758.89 L171.80,758.63 L172.30,758.37 L172.80,758.10 L173.30,757.83 L173.80,757.55 L174.30,757.27 L174.80,756.98 L175.30,756.69 L175.80,756.39 L176.30,756.09 L176.80,755.79 L177.30,755.48 L177.80,755.17 L178.30,754.85 L178.80,754.53 L179.30,754.20 L179.80,753.87 L180.30,753.54 L180.80,753.20 L181.30,752.85 L181.80,752.50 L182.30,752.15 L182.80,751.79 L183.31,751.43 L183.81,751.06 L184.31,750.69 L184.81,750.31 L185.31,749.93 L185.81,749.55 L186.31,749.15 L186.81,748.75 L187.31,748.35 L187.81,747.93 L188.31,747.50 L188.81,747.06 L189.31,746.60 L189.81,746.13 L190.31,745.65 L190.81,745.14 L191.31,744.62 L191.81,744.09 L192.31,743.53 L192.81,742.95 L193.31,742.34 L193.81,741.71 L194.31,741.06 L194.81,740.38 L195.31,739.68 L195.81,738.94 L196.31,738.18 L196.81,737.39 L197.31,736.57 L197.81,735.73 L198.32,734.85 L198.82,733.95 L199.32,733.03 L199.82,732.08 L200.32,731.10 L200.82,730.10 L201.32,729.08 L201.82,728.03 L202.32,726.96 L202.82,725.87 L203.32,724.76 L203.82,723.62 L204.32,722.47 L204.82,721.29 L205.32,720.09 L205.82,718.88 L206.32,717.64 L206.82,716.39 L207.32,715.12 L207.82,713.83 L208.32,712.53 L208.82,711.21 L209.32,709.87 L209.82,708.52 L210.32,707.15 L210.82,705.77 L211.32,704.37 L211.82,702.97 L212.32,701.55 L212.83,700.11 L213.33,698.67 L213.83,697.21 L214.33,695.74 L214.83,694.26 L215.33,692.78 L215.83,691.28 L216.33,689.77 L216.83,688.26 L217.33,686.74 L217.83,685.21 L218.33,683.67 L218.83,682.13 L219.33,680.58 L219.83,679.03 L220.33,677.47 L220.83,675.91 L221.33,674.34 L221.83,672.77 L222.33,671.20 L222.83,669.63 L223.33,668.05 L223.83,666.47 L224.33,664.89 L224.83,663.32 L225.33,661.74 L225.83,660.16 L226.33,658.58 L226.83,657.01 L227.34,655.43 L227.84,653.86 L228.34,652.28 L228.84,650.70 L229.34,649.12 L229.84,647.54 L230.34,645.96 L230.84,644.37 L231.34,642.78 L231.84,641.19 L232.34,639.59 L232.84,637.99 L233.34,636.38 L233.84,634.76 L234.34,633.14 L234.84,631.51 L235.34,629.88 L235.84,628.23 L236.34,626.58 L236.84,624.92 L237.34,623.25 L237.84,621.57 L238.34,619.88 L238.84,618.18 L239.34,616.47 L239.84,614.75 L240.34,613.01 L240.84,611.26 L241.34,609.50 L241.85,607.73 L242.35,605.94 L242.85,604.13 L243.35,602.31 L243.85,600.48 L244.35,598.63 L244.85,596.76 L245.35,594.88 L245.85,592.98 L246.35,591.06 L246.85,589.12 L247.35,587.16 L247.85,585.20 L248.35,583.21 L248.85,581.22 L249.35,579.22 L249.85,577.21 L250.35,575.19 L250.85,573.17 L251.35,571.15 L251.85,569.12 L252.35,567.10 L252.85,565.08 L253.35,563.06 L253.85,561.04 L254.35,559.04 L254.85,557.04 L255.35,555.05 L255.85,553.07 L256.36,551.11 L256.86,549.16 L257.36,547.23 L257.86,545.32 L258.36,543.43 L258.86,541.56 L259.36,539.71 L259.86,537.89 L260.36,536.09 L260.86,534.32 L261.36,532.57 L261.86,530.85 L262.36,529.15 L262.86,527.48 L263.36,525.83 L263.86,524.20 L264.36,522.59 L264.86,521.01 L265.36,519.45 L265.86,517.91 L266.36,516.40 L266.86,514.90 L267.36,513.43 L267.86,511.98 L268.36,510.55 L268.86,509.14 L269.36,507.76 L269.86,506.39 L270.36,505.05 L270.87,503.73 L271.37,502.43 L271.87,501.16 L272.37,499.91 L272.87,498.69 L273.37,497.49 L273.87,496.31 L274.37,495.17 L274.87,494.05 L275.37,492.95 L275.87,491.88 L276.37,490.85 L276.87,489.84 L277.37,488.85 L277.87,487.90 L278.37,486.98 L278.87,486.08 L279.37,485.22 L279.87,484.39 L280.37,483.59 L280.87,482.82 L281.37,482.09 L281.87,481.38 L282.37,480.71 L282.87,480.08 L283.37,479.47 L283.87,478.90 L284.37,478.36 L284.87,477.85 L285.38,477.37 L285.88,476.90 L286.38,476.46 L286.88,476.05 L287.38,475.65 L287.88,475.26 L288.38,474.89 L288.88,474.53 L289.38,474.19 L289.88,473.85 L290.38,473.51 L290.88,473.19 L291.38,472.86 L291.88,472.53 L292.38,472.21 L292.88,471.87 L293.38,471.54 L293.88,471.19 L294.38,470.84 L294.88,470.47 L295.38,470.09 L295.88,469.70 L296.38,469.30 L296.88,468.89 L297.38,468.47 L297.88,468.04 L298.38,467.60 L298.88,467.15 L299.38,466.70 L299.89,466.24 L300.39,465.78 L300.89,465.31 L301.39,464.84 L301.89,464.37 L302.39,463.90 L302.89,463.42 L303.39,462.95 L303.89,462.47 L304.39,462.00 L304.89,461.53 L305.39,461.06 L305.89,460.59 L306.39,460.13 L306.89,459.68 L307.39,459.23 L307.89,458.79 L308.39,458.35 L308.89,457.93 L309.39,457.51 L309.89,457.10 L310.39,456.71 L310.89,456.32 L311.39,455.95 L311.89,455.59 L312.39,455.25 L312.89,454.93 L313.39,454.62 L313.89,454.33 L314.40,454.05 L314.90,453.80 L315.40,453.57 L315.90,453.36 L316.40,453.18 L316.90,453.02 L317.40,452.88 L317.90,452.77 L318.40,452.69 L318.90,452.63 L319.40,452.61 L319.90,452.61 L320.40,452.65 L320.90,452.71 L321.40,452.81 L321.90,452.93 L322.40,453.09 L322.90,453.27 L323.40,453.48 L323.90,453.72 L324.40,453.99 L324.90,454.29 L325.40,454.61 L325.90,454.96 L326.40,455.33 L326.90,455.74 L327.40,456.16 L327.90,456.62 L328.40,457.10 L328.91,457.60 L329.41,458.13 L329.91,458.68 L330.41,459.25 L330.91,459.85 L331.41,460.47 L331.91,461.11 L332.41,461.78 L332.91,462.47 L333.41,463.18 L333.91,463.91 L334.41,464.66 L334.91,465.43 L335.41,466.22 L335.91,467.03 L336.41,467.87 L336.91,468.72 L337.41,469.58 L337.91,470.47 L338.41,471.38 L338.91,472.30 L339.41,473.24 L339.91,474.20 L340.41,475.17 L340.91,476.16 L341.41,477.17 L341.91,478.19 L342.41,479.23 L342.91,480.28 L343.42,481.34 L343.92,482.42 L344.42,483.52 L344.92,484.63 L345.42,485.74 L345.92,486.87 L346.42,488.01 L346.92,489.15 L347.42,490.30 L347.92,491.44 L348.42,492.59 L348.92,493.74 L349.42,494.88 L349.92,496.01 L350.42,497.14 L350.92,498.26 L351.42,499.37 L351.92,500.46 L352.42,501.54 L352.92,502.60 L353.42,503.65 L353.92,504.67 L354.42,505.67 L354.92,506.64 L355.42,507.59 L355.92,508.50 L356.42,509.39 L356.92,510.25 L357.42,511.07 L357.92,511.85 L358.43,512.60 L358.93,513.31 L359.43,513.99 L359.93,514.64 L360.43,515.26 L360.93,515.85 L361.43,516.42 L361.93,516.96 L362.43,517.48 L362.93,517.98 L363.43,518.47 L363.93,518.93 L364.43,519.38 L364.93,519.82 L365.43,520.24 L365.93,520.66 L366.43,521.07 L366.93,521.47 L367.43,521.87 L367.93,522.27 L368.43,522.66 L368.93,523.06 L369.43,523.46 L369.93,523.86 L370.43,524.27 L370.93,524.69 L371.43,525.12 L371.93,525.57 L372.43,526.02 L372.94,526.49 L373.44,526.98 L373.94,527.49 L374.44,528.01 L374.94,528.56 L375.44,529.14 L375.94,529.73 L376.44,530.36 L376.94,531.02 L377.44,531.70 L377.94,532.42 L378.44,533.18 L378.94,533.97 L379.44,534.80 L379.94,535.67 L380.44,536.58 L380.94,537.53 L381.44,538.53 L381.94,539.57 L382.44,540.65 L382.94,541.76 L383.44,542.91 L383.94,544.09 L384.44,545.29 L384.94,546.52 L385.44,547.78 L385.94,549.04 L386.44,550.33 L386.94,551.63 L387.45,552.93 L387.95,554.25 L388.45,555.57 L388.95,556.88 L389.45,558.20 L389.95,559.52 L390.45,560.84 L390.95,562.17 L391.45,563.50 L391.95,564.85 L392.45,566.21 L392.95,567.59 L393.45,568.98 L393.95,570.40 L394.45,571.85 L394.95,573.32 L395.45,574.83 L395.95,576.37 L396.45,577.94 L396.95,579.56 L397.45,581.22 L397.95,582.92 L398.45,584.67 L398.95,586.47 L399.45,588.32 L399.95,590.20 L400.45,592.12 L400.95,594.06 L401.45,596.02 L401.96,597.99 L402.46,599.95 L402.96,601.88 L403.46,603.78 L403.96,605.60 L404.46,607.36 L404.96,609.04 L405.46,610.66 L405.96,612.21 L406.46,613.70 L406.96,615.13 L407.46,616.49 L407.96,617.81 L408.46,619.06 L408.96,620.27 L409.46,621.42 L409.96,622.53 L410.46,623.59 L410.96,624.61 L411.46,625.59 L411.96,626.53 L412.46,627.44 L412.96,628.31 L413.46,629.15 L413.96,629.96 L414.46,630.75 L414.96,631.51 L415.46,632.25 L415.96,632.96 L416.47,633.67 L416.97,634.35 L417.47,635.02 L417.97,635.69 L418.47,636.34 L418.97,636.99 L419.47,637.63 L419.97,638.27 L420.47,638.92 L420.97,639.56 L421.47,640.21 L421.97,640.87 L422.47,641.53 L422.97,642.19 L423.47,642.86 L423.97,643.54 L424.47,644.22 L424.97,644.90 L425.47,645.59 L425.97,646.28 L426.47,646.98 L426.97,647.69 L427.47,648.40 L427.97,649.11 L428.47,649.83 L428.97,650.55 L429.47,651.28 L429.97,652.01 L430.47,652.75 L430.98,653.49 L431.48,654.24 L431.98,654.99 L432.48,655.75 L432.98,656.51 L433.48,657.28 L433.98,658.05 L434.48,658.83 L434.98,659.62 L435.48,660.40 L435.98,661.20 L436.48,662.00 L436.98,662.80 L437.48,663.61 L437.98,664.43 L438.48,665.25 L438.98,666.07 L439.48,666.90 L439.98,667.74 L440.48,668.58 L440.98,669.43 L441.48,670.28 L441.98,671.14 L442.48,672.00 L442.98,672.87 L443.48,673.74 L443.98,674.61 L444.48,675.49 L444.98,676.37 L445.49,677.26 L445.99,678.14 L446.49,679.03 L446.99,679.91 L447.49,680.80 L447.99,681.68 L448.49,682.56 L448.99,683.44 L449.49,684.32 L449.99,685.19 L450.49,686.05 L450.99,686.92 L451.49,687.78 L451.99,688.63 L452.49,689.47 L452.99,690.31 L453.49,691.14 L453.99,691.96 L454.49,692.77 L454.99,693.57 L455.49,694.36 L455.99,695.14 L456.49,695.91 L456.99,696.66 L457.49,697.40 L457.99,698.13 L458.49,698.85 L458.99,699.56 L459.49,700.25 L460.00,700.93 L460.50,701.60 L461.00,702.26 L461.50,702.91 L462.00,703.55 L462.50,704.17 L463.00,704.79 L463.50,705.39 L464.00,705.99 L464.50,706.57 L465.00,707.14 L465.50,707.71 L466.00,708.26 L466.50,708.81 L467.00,709.34 L467.50,709.87 L468.00,710.38 L468.50,710.89 L469.00,711.39 L469.50,711.88 L470.00,712.37 L470.50,712.84 L471.00,713.31 L471.50,713.77 L472.00,714.22 L472.50,714.66 L473.00,715.10 L473.50,715.53 L474.00,715.95 L474.51,716.37 L475.01,716.78 L475.51,717.18 L476.01,717.58 L476.51,717.97 L477.01,718.35 L477.51,718.73 L478.01,719.11 L478.51,719.47 L479.01,719.84 L479.51,720.20 L480.01,720.55 L480.51,720.90 L481.01,721.24 L481.51,721.58 L482.01,721.92 L482.51,722.25 L483.01,722.58 L483.51,722.91 L484.01,723.23 L484.51,723.55 L485.01,723.86 L485.51,724.17 L486.01,724.48 L486.51,724.79 L487.01,725.10 L487.51,725.40 L488.01,725.70 L488.51,726.00 L489.02,726.30 L489.52,726.59 L490.02,726.89 L490.52,727.18 L491.02,727.47 L491.52,727.76 L492.02,728.06 L492.52,728.35 L493.02,728.64 L493.52,728.93 L494.02,729.22 L494.52,729.51 L495.02,729.80 L495.52,730.09 L496.02,730.38 L496.52,730.67 L497.02,730.96 L497.52,731.25 L498.02,731.54 L498.52,731.83 L499.02,732.12 L499.52,732.41 L500.02,732.70 L500.52,732.99 L501.02,733.28 L501.52,733.57 L502.02,733.86 L502.52,734.15 L503.02,734.44 L503.53,734.73 L504.03,735.02 L504.53,735.31 L505.03,735.59 L505.53,735.88 L506.03,736.17 L506.53,736.45 L507.03,736.74 L507.53,737.03 L508.03,737.31 L508.53,737.60 L509.03,737.88 L509.53,738.17 L510.03,738.45 L510.53,738.73 L511.03,739.01 L511.53,739.30 L512.03,739.58 L512.53,739.86 L513.03,740.14 L513.53,740.42 L514.03,740.70 L514.53,740.97 L515.03,741.25 L515.53,741.53 L516.03,741.80 L516.53,742.08 L517.03,742.35 L517.53,742.62 L518.04,742.90 L518.54,743.17 L519.04,743.44 L519.54,743.71 L520.04,743.98 L520.54,744.25 L521.04,744.51 L521.54,744.78 L522.04,745.05 L522.54,745.31 L523.04,745.57 L523.54,745.84 L524.04,746.10 L524.54,746.36 L525.04,746.62 L525.54,746.87 L526.04,747.13 L526.54,747.39 L527.04,747.64 L527.54,747.89 L528.04,748.15 L528.54,748.40 L529.04,748.65 L529.54,748.89 L530.04,749.14 L530.54,749.39 L531.04,749.63 L531.54,749.87 L532.04,750.12 L532.54,750.36 L533.05,750.60 L533.55,750.83 L534.05,751.07 L534.55,751.30 L535.05,751.54 L535.55,751.77 L536.05,752.00 L536.55,752.23 L537.05,752.45 L537.55,752.68 L538.05,752.90 L538.55,753.13 L539.05,753.35 L539.55,753.57 L540.05,753.78 L540.55,754.00 L541.05,754.21 L541.55,754.43 L542.05,754.64 L542.55,754.84 L543.05,755.05 L543.55,755.26 L544.05,755.46 L544.55,755.66 L545.05,755.86 L545.55,756.06 L546.05,756.26 L546.55,756.45 L547.05,756.64 L547.56,756.83 L548.06,757.02 L548.56,757.21 L549.06,757.40 L549.56,757.58 L550.06,757.76 L550.56,757.94 L551.06,758.12 L551.56,758.30 L552.06,758.48 L552.56,758.65 L553.06,758.82 L553.56,758.99 L554.06,759.16 L554.56,759.33 L555.06,759.50 L555.56,759.66 L556.06,759.82 L556.56,759.98 L557.06,760.14 L557.56,760.30 L558.06,760.45 L558.56,760.61 L559.06,760.76 L559.56,760.91 L560.06,761.06 L560.56,761.21 L561.06,761.35 L561.56,761.50 L562.07,761.64 L562.57,761.78 L563.07,761.92 L563.57,762.05 L564.07,762.19 L564.57,762.32 L565.07,762.46 L565.57,762.59 L566.07,762.72 L566.57,762.85 L567.07,762.97 L567.57,763.10 L568.07,763.22 L568.57,763.34 L569.07,763.46 L569.57,763.58 L570.07,763.70 L570.57,763.81 L571.07,763.93 L571.57,764.04 L572.07,764.15 L572.57,764.26 L573.07,764.36 L573.57,764.47 L574.07,764.57 L574.57,764.68 L575.07,764.78 L575.57,764.88 L576.07,764.98 L576.58,765.07 L577.08,765.17 L577.58,765.26 L578.08,765.35 L578.58,765.45 L579.08,765.53 L579.58,765.62 L580.08,765.71 L580.58,765.79 L581.08,765.88 L581.58,765.96 L582.08,766.04 L582.58,766.12 L583.08,766.20 L583.58,766.27 L584.08,766.35 L584.58,766.42 L585.08,766.49 L585.58,766.56 L586.08,766.63 L586.58,766.70 L587.08,766.76 L587.58,766.83 L588.08,766.89 L588.58,766.95 L589.08,767.01 L589.58,767.07 L590.08,767.13 L590.58,767.18 L591.09,767.24 L591.59,767.29 L592.09,767.34 L592.59,767.39 L593.09,767.44 L593.59,767.49 L594.09,767.53 L594.59,767.58 L595.09,767.62 L595.59,767.66 L596.09,767.70 L596.59,767.74 L597.09,767.78 L597.59,767.82 L598.09,767.85 L598.59,767.89 L599.09,767.92 L599.59,767.95 L600.09,767.98 L600.59,768.01 L601.09,768.04 L601.59,768.06 L602.09,768.09 L602.59,768.11 L603.09,768.13 L603.59,768.15 L604.09,768.17 L604.59,768.19 L605.09,768.21 L605.60,768.22 L606.10,768.23 L606.60,768.25 L607.10,768.26 L607.60,768.27 L608.10,768.28 L608.60,768.29 L609.10,768.29 L609.60,768.30 L610.10,768.30 L610.60,768.30 L611.10,768.30 L611.60,768.30 L612.10,768.30 L612.60,768.30 L612.60,768.30 L103.25,768.30 Z" fill="#d0e7b6" stroke="#a9d48c" stroke-width="0.8"/>
<line x1="103" y1="663.3" x2="612.5" y2="663.3" stroke="#747474" stroke-width="1.25" stroke-dasharray="2.1 2.65"/>
<path d="M103.10,452.39 L104.10,454.06 L105.10,455.72 L106.10,457.35 L107.10,458.96 L108.10,460.55 L109.10,462.12 L110.11,463.68 L111.11,465.21 L112.11,466.72 L113.11,468.22 L114.11,469.70 L115.11,471.17 L116.11,472.62 L117.11,474.05 L118.11,475.47 L119.11,476.88 L120.11,478.27 L121.11,479.65 L122.11,481.02 L123.12,482.38 L124.12,483.72 L125.12,485.06 L126.12,486.39 L127.12,487.71 L128.12,489.02 L129.12,490.32 L130.12,491.62 L131.12,492.91 L132.12,494.19 L133.12,495.47 L134.12,496.74 L135.13,498.01 L136.13,499.28 L137.13,500.54 L138.13,501.80 L139.13,503.07 L140.13,504.33 L141.13,505.58 L142.13,506.84 L143.13,508.10 L144.13,509.35 L145.13,510.60 L146.13,511.85 L147.13,513.09 L148.14,514.33 L149.14,515.56 L150.14,516.79 L151.14,518.02 L152.14,519.24 L153.14,520.45 L154.14,521.66 L155.14,522.86 L156.14,524.05 L157.14,525.23 L158.14,526.41 L159.14,527.58 L160.14,528.74 L161.15,529.89 L162.15,531.03 L163.15,532.15 L164.15,533.27 L165.15,534.38 L166.15,535.48 L167.15,536.56 L168.15,537.63 L169.15,538.69 L170.15,539.74 L171.15,540.77 L172.15,541.79 L173.16,542.79 L174.16,543.78 L175.16,544.75 L176.16,545.71 L177.16,546.65 L178.16,547.58 L179.16,548.48 L180.16,549.38 L181.16,550.25 L182.16,551.10 L183.16,551.94 L184.16,552.76 L185.16,553.55 L186.17,554.33 L187.17,555.09 L188.17,555.83 L189.17,556.54 L190.17,557.24 L191.17,557.91 L192.17,558.57 L193.17,559.21 L194.17,559.83 L195.17,560.43 L196.17,561.01 L197.17,561.58 L198.17,562.13 L199.18,562.66 L200.18,563.18 L201.18,563.69 L202.18,564.18 L203.18,564.66 L204.18,565.12 L205.18,565.57 L206.18,566.01 L207.18,566.44 L208.18,566.86 L209.18,567.27 L210.18,567.66 L211.18,568.05 L212.19,568.43 L213.19,568.80 L214.19,569.16 L215.19,569.52 L216.19,569.87 L217.19,570.21 L218.19,570.54 L219.19,570.87 L220.19,571.20 L221.19,571.52 L222.19,571.84 L223.19,572.16 L224.20,572.47 L225.20,572.78 L226.20,573.09 L227.20,573.40 L228.20,573.70 L229.20,574.01 L230.20,574.32 L231.20,574.63 L232.20,574.94 L233.20,575.25 L234.20,575.57 L235.20,575.88 L236.20,576.21 L237.21,576.53 L238.21,576.86 L239.21,577.20 L240.21,577.54 L241.21,577.89 L242.21,578.25 L243.21,578.61 L244.21,578.98 L245.21,579.36 L246.21,579.75 L247.21,580.14 L248.21,580.55 L249.21,580.97 L250.22,581.40 L251.22,581.84 L252.22,582.29 L253.22,582.75 L254.22,583.23 L255.22,583.72 L256.22,584.23 L257.22,584.75 L258.22,585.29 L259.22,585.84 L260.22,586.41 L261.22,586.99 L262.22,587.59 L263.23,588.21 L264.23,588.85 L265.23,589.51 L266.23,590.18 L267.23,590.88 L268.23,591.60 L269.23,592.33 L270.23,593.09 L271.23,593.87 L272.23,594.68 L273.23,595.50 L274.23,596.34 L275.24,597.20 L276.24,598.08 L277.24,598.98 L278.24,599.89 L279.24,600.82 L280.24,601.77 L281.24,602.73 L282.24,603.71 L283.24,604.70 L284.24,605.71 L285.24,606.72 L286.24,607.76 L287.24,608.80 L288.25,609.85 L289.25,610.92 L290.25,611.99 L291.25,613.08 L292.25,614.17 L293.25,615.28 L294.25,616.39 L295.25,617.51 L296.25,618.63 L297.25,619.76 L298.25,620.90 L299.25,622.04 L300.25,623.18 L301.26,624.33 L302.26,625.48 L303.26,626.64 L304.26,627.79 L305.26,628.95 L306.26,630.11 L307.26,631.27 L308.26,632.43 L309.26,633.58 L310.26,634.74 L311.26,635.89 L312.26,637.04 L313.27,638.19 L314.27,639.33 L315.27,640.47 L316.27,641.61 L317.27,642.73 L318.27,643.85 L319.27,644.97 L320.27,646.08 L321.27,647.17 L322.27,648.26 L323.27,649.35 L324.27,650.42 L325.27,651.48 L326.28,652.53 L327.28,653.56 L328.28,654.59 L329.28,655.60 L330.28,656.59 L331.28,657.57 L332.28,658.52 L333.28,659.46 L334.28,660.36 L335.28,661.25 L336.28,662.10 L337.28,662.93 L338.28,663.72 L339.29,664.48 L340.29,665.21 L341.29,665.91 L342.29,666.58 L343.29,667.23 L344.29,667.86 L345.29,668.47 L346.29,669.06 L347.29,669.63 L348.29,670.19 L349.29,670.74 L350.29,671.28 L351.29,671.81 L352.30,672.33 L353.30,672.86 L354.30,673.38 L355.30,673.90 L356.30,674.42 L357.30,674.93 L358.30,675.44 L359.30,675.95 L360.30,676.45 L361.30,676.95 L362.30,677.45 L363.30,677.94 L364.31,678.43 L365.31,678.91 L366.31,679.39 L367.31,679.86 L368.31,680.32 L369.31,680.78 L370.31,681.23 L371.31,681.67 L372.31,682.11 L373.31,682.53 L374.31,682.95 L375.31,683.36 L376.31,683.76 L377.32,684.16 L378.32,684.54 L379.32,684.91 L380.32,685.28 L381.32,685.63 L382.32,685.97 L383.32,686.30 L384.32,686.62 L385.32,686.93 L386.32,687.22 L387.32,687.51 L388.32,687.78 L389.32,688.03 L390.33,688.28 L391.33,688.51 L392.33,688.74 L393.33,688.96 L394.33,689.17 L395.33,689.37 L396.33,689.56 L397.33,689.76 L398.33,689.94 L399.33,690.13 L400.33,690.31 L401.33,690.50 L402.33,690.68 L403.34,690.87 L404.34,691.05 L405.34,691.24 L406.34,691.44 L407.34,691.64 L408.34,691.84 L409.34,692.06 L410.34,692.28 L411.34,692.50 L412.34,692.74 L413.34,692.98 L414.34,693.22 L415.35,693.48 L416.35,693.73 L417.35,694.00 L418.35,694.27 L419.35,694.54 L420.35,694.82 L421.35,695.11 L422.35,695.40 L423.35,695.70 L424.35,696.00 L425.35,696.30 L426.35,696.61 L427.35,696.93 L428.36,697.25 L429.36,697.57 L430.36,697.90 L431.36,698.23 L432.36,698.56 L433.36,698.90 L434.36,699.24 L435.36,699.59 L436.36,699.94 L437.36,700.29 L438.36,700.64 L439.36,701.00 L440.36,701.36 L441.37,701.72 L442.37,702.09 L443.37,702.46 L444.37,702.83 L445.37,703.20 L446.37,703.57 L447.37,703.95 L448.37,704.32 L449.37,704.70 L450.37,705.08 L451.37,705.46 L452.37,705.84 L453.38,706.22 L454.38,706.61 L455.38,706.99 L456.38,707.38 L457.38,707.76 L458.38,708.14 L459.38,708.53 L460.38,708.91 L461.38,709.30 L462.38,709.68 L463.38,710.07 L464.38,710.45 L465.38,710.83 L466.39,711.21 L467.39,711.59 L468.39,711.97 L469.39,712.35 L470.39,712.73 L471.39,713.10 L472.39,713.47 L473.39,713.85 L474.39,714.21 L475.39,714.58 L476.39,714.95 L477.39,715.31 L478.39,715.67 L479.40,716.02 L480.40,716.38 L481.40,716.73 L482.40,717.08 L483.40,717.43 L484.40,717.78 L485.40,718.12 L486.40,718.47 L487.40,718.81 L488.40,719.16 L489.40,719.50 L490.40,719.84 L491.40,720.19 L492.41,720.53 L493.41,720.88 L494.41,721.23 L495.41,721.57 L496.41,721.92 L497.41,722.28 L498.41,722.63 L499.41,722.99 L500.41,723.35 L501.41,723.72 L502.41,724.08 L503.41,724.45 L504.42,724.83 L505.42,725.21 L506.42,725.59 L507.42,725.98 L508.42,726.38 L509.42,726.78 L510.42,727.18 L511.42,727.59 L512.42,728.01 L513.42,728.44 L514.42,728.86 L515.42,729.30 L516.42,729.74 L517.43,730.18 L518.43,730.63 L519.43,731.09 L520.43,731.54 L521.43,732.00 L522.43,732.46 L523.43,732.93 L524.43,733.39 L525.43,733.86 L526.43,734.33 L527.43,734.80 L528.43,735.27 L529.43,735.74 L530.44,736.21 L531.44,736.68 L532.44,737.14 L533.44,737.61 L534.44,738.07 L535.44,738.54 L536.44,738.99 L537.44,739.45 L538.44,739.90 L539.44,740.35 L540.44,740.80 L541.44,741.24 L542.44,741.67 L543.45,742.10 L544.45,742.53 L545.45,742.95 L546.45,743.36 L547.45,743.76 L548.45,744.16 L549.45,744.55 L550.45,744.94 L551.45,745.32 L552.45,745.69 L553.45,746.06 L554.45,746.43 L555.46,746.79 L556.46,747.15 L557.46,747.51 L558.46,747.86 L559.46,748.22 L560.46,748.57 L561.46,748.92 L562.46,749.27 L563.46,749.62 L564.46,749.97 L565.46,750.33 L566.46,750.68 L567.46,751.04 L568.47,751.40 L569.47,751.76 L570.47,752.12 L571.47,752.49 L572.47,752.87 L573.47,753.25 L574.47,753.63 L575.47,754.02 L576.47,754.42 L577.47,754.82 L578.47,755.23 L579.47,755.65 L580.47,756.08 L581.48,756.52 L582.48,756.96 L583.48,757.41 L584.48,757.86 L585.48,758.32 L586.48,758.78 L587.48,759.24 L588.48,759.70 L589.48,760.17 L590.48,760.63 L591.48,761.09 L592.48,761.55 L593.49,762.00 L594.49,762.45 L595.49,762.89 L596.49,763.33 L597.49,763.75 L598.49,764.17 L599.49,764.58 L600.49,764.98 L601.49,765.36 L602.49,765.73 L603.49,766.09 L604.49,766.43 L605.49,766.76 L606.50,767.07 L607.50,767.36 L608.50,767.63 L609.50,767.88 L610.50,768.11 L611.50,768.32 L612.50,768.50" fill="none" stroke="#1a1a1a" stroke-width="1.35" stroke-dasharray="6 4.6" mask="url(#mb)"/>
<path d="M102.70,736.19 L103.70,735.58 L104.70,734.97 L105.70,734.36 L106.70,733.73 L107.70,733.11 L108.70,732.47 L109.70,731.84 L110.70,731.19 L111.70,730.55 L112.70,729.89 L113.70,729.24 L114.70,728.58 L115.71,727.91 L116.71,727.25 L117.71,726.57 L118.71,725.90 L119.71,725.22 L120.71,724.54 L121.71,723.86 L122.71,723.17 L123.71,722.48 L124.71,721.79 L125.71,721.09 L126.71,720.40 L127.71,719.70 L128.71,719.00 L129.71,718.30 L130.71,717.60 L131.71,716.90 L132.71,716.19 L133.71,715.49 L134.71,714.78 L135.71,714.08 L136.71,713.37 L137.71,712.67 L138.71,711.96 L139.71,711.26 L140.71,710.55 L141.72,709.85 L142.72,709.15 L143.72,708.45 L144.72,707.75 L145.72,707.05 L146.72,706.35 L147.72,705.66 L148.72,704.96 L149.72,704.27 L150.72,703.58 L151.72,702.90 L152.72,702.21 L153.72,701.53 L154.72,700.85 L155.72,700.18 L156.72,699.51 L157.72,698.84 L158.72,698.18 L159.72,697.52 L160.72,696.86 L161.72,696.21 L162.72,695.57 L163.72,694.93 L164.72,694.30 L165.72,693.67 L166.73,693.05 L167.73,692.43 L168.73,691.82 L169.73,691.23 L170.73,690.63 L171.73,690.05 L172.73,689.48 L173.73,688.91 L174.73,688.36 L175.73,687.81 L176.73,687.28 L177.73,686.75 L178.73,686.24 L179.73,685.74 L180.73,685.25 L181.73,684.77 L182.73,684.30 L183.73,683.85 L184.73,683.41 L185.73,682.99 L186.73,682.57 L187.73,682.18 L188.73,681.79 L189.73,681.43 L190.73,681.07 L191.73,680.74 L192.74,680.41 L193.74,680.10 L194.74,679.81 L195.74,679.53 L196.74,679.26 L197.74,679.01 L198.74,678.77 L199.74,678.55 L200.74,678.34 L201.74,678.15 L202.74,677.96 L203.74,677.80 L204.74,677.64 L205.74,677.50 L206.74,677.38 L207.74,677.26 L208.74,677.16 L209.74,677.08 L210.74,677.00 L211.74,676.94 L212.74,676.90 L213.74,676.86 L214.74,676.84 L215.74,676.84 L216.74,676.84 L217.75,676.86 L218.75,676.88 L219.75,676.92 L220.75,676.97 L221.75,677.03 L222.75,677.10 L223.75,677.17 L224.75,677.26 L225.75,677.35 L226.75,677.45 L227.75,677.55 L228.75,677.67 L229.75,677.78 L230.75,677.90 L231.75,678.03 L232.75,678.16 L233.75,678.29 L234.75,678.43 L235.75,678.56 L236.75,678.70 L237.75,678.84 L238.75,678.98 L239.75,679.12 L240.75,679.26 L241.75,679.40 L242.75,679.54 L243.76,679.68 L244.76,679.81 L245.76,679.94 L246.76,680.06 L247.76,680.18 L248.76,680.30 L249.76,680.41 L250.76,680.52 L251.76,680.62 L252.76,680.72 L253.76,680.81 L254.76,680.89 L255.76,680.97 L256.76,681.05 L257.76,681.11 L258.76,681.17 L259.76,681.23 L260.76,681.28 L261.76,681.32 L262.76,681.35 L263.76,681.38 L264.76,681.40 L265.76,681.41 L266.76,681.41 L267.76,681.41 L268.77,681.40 L269.77,681.37 L270.77,681.34 L271.77,681.31 L272.77,681.26 L273.77,681.20 L274.77,681.13 L275.77,681.06 L276.77,680.97 L277.77,680.88 L278.77,680.77 L279.77,680.65 L280.77,680.53 L281.77,680.39 L282.77,680.24 L283.77,680.08 L284.77,679.91 L285.77,679.73 L286.77,679.54 L287.77,679.33 L288.77,679.12 L289.77,678.90 L290.77,678.67 L291.77,678.43 L292.77,678.19 L293.77,677.93 L294.78,677.67 L295.78,677.40 L296.78,677.12 L297.78,676.84 L298.78,676.54 L299.78,676.25 L300.78,675.94 L301.78,675.63 L302.78,675.32 L303.78,675.00 L304.78,674.67 L305.78,674.34 L306.78,674.01 L307.78,673.67 L308.78,673.33 L309.78,672.99 L310.78,672.64 L311.78,672.29 L312.78,671.94 L313.78,671.59 L314.78,671.23 L315.78,670.87 L316.78,670.51 L317.78,670.16 L318.78,669.80 L319.79,669.44 L320.79,669.08 L321.79,668.72 L322.79,668.36 L323.79,668.00 L324.79,667.65 L325.79,667.29 L326.79,666.94 L327.79,666.59 L328.79,666.24 L329.79,665.90 L330.79,665.56 L331.79,665.22 L332.79,664.89 L333.79,664.56 L334.79,664.23 L335.79,663.91 L336.79,663.60 L337.79,663.29 L338.79,662.99 L339.79,662.69 L340.79,662.39 L341.79,662.11 L342.79,661.82 L343.79,661.55 L344.79,661.27 L345.80,661.00 L346.80,660.74 L347.80,660.48 L348.80,660.22 L349.80,659.97 L350.80,659.72 L351.80,659.48 L352.80,659.24 L353.80,659.00 L354.80,658.76 L355.80,658.53 L356.80,658.30 L357.80,658.07 L358.80,657.85 L359.80,657.62 L360.80,657.40 L361.80,657.18 L362.80,656.97 L363.80,656.75 L364.80,656.53 L365.80,656.32 L366.80,656.10 L367.80,655.89 L368.80,655.68 L369.80,655.47 L370.81,655.25 L371.81,655.04 L372.81,654.83 L373.81,654.61 L374.81,654.40 L375.81,654.19 L376.81,653.97 L377.81,653.75 L378.81,653.54 L379.81,653.32 L380.81,653.10 L381.81,652.87 L382.81,652.65 L383.81,652.42 L384.81,652.19 L385.81,651.96 L386.81,651.72 L387.81,651.49 L388.81,651.25 L389.81,651.00 L390.81,650.75 L391.81,650.50 L392.81,650.25 L393.81,649.99 L394.81,649.73 L395.81,649.46 L396.82,649.19 L397.82,648.91 L398.82,648.63 L399.82,648.34 L400.82,648.05 L401.82,647.75 L402.82,647.45 L403.82,647.14 L404.82,646.83 L405.82,646.51 L406.82,646.18 L407.82,645.85 L408.82,645.51 L409.82,645.16 L410.82,644.81 L411.82,644.45 L412.82,644.08 L413.82,643.70 L414.82,643.32 L415.82,642.93 L416.82,642.53 L417.82,642.12 L418.82,641.70 L419.82,641.28 L420.82,640.85 L421.83,640.40 L422.83,639.95 L423.83,639.49 L424.83,639.02 L425.83,638.55 L426.83,638.06 L427.83,637.57 L428.83,637.07 L429.83,636.56 L430.83,636.04 L431.83,635.51 L432.83,634.98 L433.83,634.43 L434.83,633.88 L435.83,633.32 L436.83,632.75 L437.83,632.18 L438.83,631.60 L439.83,631.01 L440.83,630.41 L441.83,629.80 L442.83,629.19 L443.83,628.57 L444.83,627.94 L445.83,627.30 L446.83,626.66 L447.84,626.01 L448.84,625.35 L449.84,624.68 L450.84,624.01 L451.84,623.33 L452.84,622.64 L453.84,621.95 L454.84,621.25 L455.84,620.54 L456.84,619.82 L457.84,619.10 L458.84,618.37 L459.84,617.64 L460.84,616.89 L461.84,616.15 L462.84,615.39 L463.84,614.63 L464.84,613.86 L465.84,613.09 L466.84,612.31 L467.84,611.52 L468.84,610.73 L469.84,609.93 L470.84,609.12 L471.84,608.31 L472.85,607.49 L473.85,606.67 L474.85,605.84 L475.85,605.00 L476.85,604.16 L477.85,603.32 L478.85,602.46 L479.85,601.60 L480.85,600.74 L481.85,599.87 L482.85,599.00 L483.85,598.12 L484.85,597.23 L485.85,596.34 L486.85,595.44 L487.85,594.54 L488.85,593.64 L489.85,592.72 L490.85,591.81 L491.85,590.89 L492.85,589.96 L493.85,589.03 L494.85,588.09 L495.85,587.15 L496.85,586.21 L497.85,585.26 L498.86,584.31 L499.86,583.35 L500.86,582.40 L501.86,581.43 L502.86,580.47 L503.86,579.50 L504.86,578.53 L505.86,577.55 L506.86,576.58 L507.86,575.60 L508.86,574.62 L509.86,573.63 L510.86,572.65 L511.86,571.66 L512.86,570.67 L513.86,569.68 L514.86,568.69 L515.86,567.70 L516.86,566.71 L517.86,565.71 L518.86,564.72 L519.86,563.72 L520.86,562.73 L521.86,561.73 L522.86,560.74 L523.87,559.74 L524.87,558.75 L525.87,557.75 L526.87,556.76 L527.87,555.77 L528.87,554.78 L529.87,553.78 L530.87,552.79 L531.87,551.80 L532.87,550.81 L533.87,549.82 L534.87,548.83 L535.87,547.84 L536.87,546.85 L537.87,545.86 L538.87,544.86 L539.87,543.87 L540.87,542.88 L541.87,541.88 L542.87,540.88 L543.87,539.89 L544.87,538.89 L545.87,537.89 L546.87,536.89 L547.87,535.88 L548.87,534.88 L549.88,533.87 L550.88,532.86 L551.88,531.85 L552.88,530.83 L553.88,529.82 L554.88,528.80 L555.88,527.78 L556.88,526.75 L557.88,525.72 L558.88,524.69 L559.88,523.66 L560.88,522.62 L561.88,521.58 L562.88,520.54 L563.88,519.49 L564.88,518.44 L565.88,517.38 L566.88,516.33 L567.88,515.27 L568.88,514.20 L569.88,513.14 L570.88,512.07 L571.88,511.00 L572.88,509.93 L573.88,508.86 L574.89,507.79 L575.89,506.71 L576.89,505.64 L577.89,504.56 L578.89,503.48 L579.89,502.40 L580.89,501.32 L581.89,500.24 L582.89,499.17 L583.89,498.09 L584.89,497.01 L585.89,495.93 L586.89,494.85 L587.89,493.77 L588.89,492.70 L589.89,491.62 L590.89,490.55 L591.89,489.47 L592.89,488.40 L593.89,487.33 L594.89,486.27 L595.89,485.20 L596.89,484.14 L597.89,483.08 L598.89,482.02 L599.89,480.97 L600.90,479.91 L601.90,478.87 L602.90,477.82 L603.90,476.78 L604.90,475.74 L605.90,474.71 L606.90,473.68 L607.90,472.65 L608.90,471.63 L609.90,470.61 L610.90,469.60 L611.90,468.59 L612.90,467.59" fill="none" stroke="#1a1a1a" stroke-width="1.35" stroke-dasharray="6 4.6" mask="url(#mb)"/>
<path d="M103.00,613.74 L104.00,613.85 L105.00,613.97 L106.00,614.08 L107.01,614.20 L108.01,614.31 L109.01,614.42 L110.01,614.53 L111.01,614.65 L112.01,614.76 L113.02,614.87 L114.02,614.98 L115.02,615.09 L116.02,615.21 L117.02,615.32 L118.02,615.43 L119.03,615.54 L120.03,615.65 L121.03,615.76 L122.03,615.87 L123.03,615.98 L124.03,616.09 L125.03,616.20 L126.04,616.31 L127.04,616.42 L128.04,616.53 L129.04,616.64 L130.04,616.75 L131.04,616.87 L132.05,616.98 L133.05,617.09 L134.05,617.20 L135.05,617.31 L136.05,617.42 L137.05,617.53 L138.05,617.64 L139.06,617.75 L140.06,617.86 L141.06,617.97 L142.06,618.08 L143.06,618.19 L144.06,618.30 L145.07,618.41 L146.07,618.53 L147.07,618.64 L148.07,618.75 L149.07,618.86 L150.07,618.98 L151.08,619.09 L152.08,619.20 L153.08,619.31 L154.08,619.43 L155.08,619.54 L156.08,619.66 L157.08,619.77 L158.09,619.88 L159.09,620.00 L160.09,620.11 L161.09,620.23 L162.09,620.35 L163.09,620.46 L164.10,620.58 L165.10,620.70 L166.10,620.81 L167.10,620.93 L168.10,621.05 L169.10,621.17 L170.11,621.29 L171.11,621.41 L172.11,621.53 L173.11,621.65 L174.11,621.77 L175.11,621.89 L176.11,622.02 L177.12,622.14 L178.12,622.26 L179.12,622.39 L180.12,622.51 L181.12,622.64 L182.12,622.76 L183.13,622.89 L184.13,623.02 L185.13,623.14 L186.13,623.27 L187.13,623.40 L188.13,623.53 L189.13,623.66 L190.14,623.79 L191.14,623.92 L192.14,624.06 L193.14,624.19 L194.14,624.32 L195.14,624.46 L196.15,624.59 L197.15,624.73 L198.15,624.87 L199.15,625.01 L200.15,625.14 L201.15,625.28 L202.16,625.42 L203.16,625.57 L204.16,625.71 L205.16,625.85 L206.16,625.99 L207.16,626.14 L208.16,626.28 L209.17,626.43 L210.17,626.58 L211.17,626.73 L212.17,626.88 L213.17,627.03 L214.17,627.18 L215.18,627.33 L216.18,627.48 L217.18,627.64 L218.18,627.79 L219.18,627.95 L220.18,628.11 L221.19,628.27 L222.19,628.43 L223.19,628.59 L224.19,628.76 L225.19,628.92 L226.19,629.09 L227.19,629.26 L228.20,629.43 L229.20,629.61 L230.20,629.78 L231.20,629.96 L232.20,630.14 L233.20,630.32 L234.21,630.51 L235.21,630.70 L236.21,630.89 L237.21,631.08 L238.21,631.28 L239.21,631.47 L240.21,631.68 L241.22,631.88 L242.22,632.09 L243.22,632.30 L244.22,632.51 L245.22,632.73 L246.22,632.95 L247.23,633.18 L248.23,633.40 L249.23,633.63 L250.23,633.87 L251.23,634.11 L252.23,634.35 L253.24,634.60 L254.24,634.85 L255.24,635.10 L256.24,635.36 L257.24,635.63 L258.24,635.89 L259.24,636.17 L260.25,636.44 L261.25,636.72 L262.25,637.01 L263.25,637.30 L264.25,637.59 L265.25,637.89 L266.26,638.20 L267.26,638.51 L268.26,638.82 L269.26,639.14 L270.26,639.47 L271.26,639.79 L272.27,640.12 L273.27,640.46 L274.27,640.80 L275.27,641.14 L276.27,641.49 L277.27,641.84 L278.27,642.19 L279.28,642.54 L280.28,642.90 L281.28,643.26 L282.28,643.63 L283.28,643.99 L284.28,644.36 L285.29,644.73 L286.29,645.10 L287.29,645.48 L288.29,645.85 L289.29,646.23 L290.29,646.61 L291.29,646.98 L292.30,647.37 L293.30,647.75 L294.30,648.13 L295.30,648.51 L296.30,648.89 L297.30,649.28 L298.31,649.66 L299.31,650.04 L300.31,650.43 L301.31,650.81 L302.31,651.19 L303.31,651.57 L304.32,651.95 L305.32,652.33 L306.32,652.71 L307.32,653.09 L308.32,653.47 L309.32,653.84 L310.32,654.21 L311.33,654.59 L312.33,654.95 L313.33,655.32 L314.33,655.69 L315.33,656.05 L316.33,656.41 L317.34,656.77 L318.34,657.12 L319.34,657.47 L320.34,657.82 L321.34,658.17 L322.34,658.51 L323.35,658.84 L324.35,659.18 L325.35,659.51 L326.35,659.83 L327.35,660.16 L328.35,660.47 L329.35,660.79 L330.36,661.10 L331.36,661.40 L332.36,661.70 L333.36,661.99 L334.36,662.28 L335.36,662.56 L336.37,662.84 L337.37,663.11 L338.37,663.38 L339.37,663.64 L340.37,663.89 L341.37,664.14 L342.37,664.38 L343.38,664.62 L344.38,664.85 L345.38,665.07 L346.38,665.29 L347.38,665.50 L348.38,665.71 L349.39,665.92 L350.39,666.11 L351.39,666.30 L352.39,666.49 L353.39,666.67 L354.39,666.85 L355.40,667.02 L356.40,667.18 L357.40,667.34 L358.40,667.50 L359.40,667.65 L360.40,667.80 L361.40,667.94 L362.41,668.07 L363.41,668.20 L364.41,668.33 L365.41,668.45 L366.41,668.56 L367.41,668.67 L368.42,668.78 L369.42,668.88 L370.42,668.98 L371.42,669.07 L372.42,669.16 L373.42,669.24 L374.43,669.32 L375.43,669.40 L376.43,669.47 L377.43,669.54 L378.43,669.60 L379.43,669.66 L380.43,669.71 L381.44,669.76 L382.44,669.81 L383.44,669.85 L384.44,669.89 L385.44,669.92 L386.44,669.95 L387.45,669.98 L388.45,670.00 L389.45,670.02 L390.45,670.03 L391.45,670.04 L392.45,670.05 L393.45,670.05 L394.46,670.05 L395.46,670.05 L396.46,670.05 L397.46,670.04 L398.46,670.02 L399.46,670.01 L400.47,669.99 L401.47,669.96 L402.47,669.94 L403.47,669.91 L404.47,669.87 L405.47,669.84 L406.48,669.80 L407.48,669.76 L408.48,669.71 L409.48,669.67 L410.48,669.62 L411.48,669.56 L412.48,669.51 L413.49,669.45 L414.49,669.39 L415.49,669.33 L416.49,669.26 L417.49,669.19 L418.49,669.12 L419.50,669.05 L420.50,668.97 L421.50,668.89 L422.50,668.81 L423.50,668.73 L424.50,668.64 L425.51,668.55 L426.51,668.46 L427.51,668.37 L428.51,668.28 L429.51,668.18 L430.51,668.09 L431.51,667.99 L432.52,667.89 L433.52,667.78 L434.52,667.68 L435.52,667.57 L436.52,667.46 L437.52,667.35 L438.53,667.24 L439.53,667.13 L440.53,667.01 L441.53,666.89 L442.53,666.78 L443.53,666.66 L444.53,666.54 L445.54,666.42 L446.54,666.29 L447.54,666.17 L448.54,666.04 L449.54,665.92 L450.54,665.79 L451.55,665.66 L452.55,665.53 L453.55,665.40 L454.55,665.26 L455.55,665.13 L456.55,664.99 L457.56,664.86 L458.56,664.72 L459.56,664.58 L460.56,664.44 L461.56,664.30 L462.56,664.16 L463.56,664.02 L464.57,663.88 L465.57,663.73 L466.57,663.59 L467.57,663.44 L468.57,663.29 L469.57,663.14 L470.58,662.99 L471.58,662.84 L472.58,662.69 L473.58,662.54 L474.58,662.39 L475.58,662.24 L476.59,662.08 L477.59,661.93 L478.59,661.77 L479.59,661.62 L480.59,661.46 L481.59,661.30 L482.59,661.14 L483.60,660.98 L484.60,660.82 L485.60,660.66 L486.60,660.50 L487.60,660.34 L488.60,660.18 L489.61,660.01 L490.61,659.85 L491.61,659.68 L492.61,659.52 L493.61,659.35 L494.61,659.19 L495.61,659.02 L496.62,658.86 L497.62,658.69 L498.62,658.52 L499.62,658.35 L500.62,658.18 L501.62,658.01 L502.63,657.85 L503.63,657.68 L504.63,657.51 L505.63,657.33 L506.63,657.16 L507.63,656.99 L508.64,656.82 L509.64,656.65 L510.64,656.48 L511.64,656.31 L512.64,656.13 L513.64,655.96 L514.64,655.79 L515.65,655.61 L516.65,655.44 L517.65,655.27 L518.65,655.09 L519.65,654.92 L520.65,654.75 L521.66,654.57 L522.66,654.40 L523.66,654.22 L524.66,654.05 L525.66,653.88 L526.66,653.70 L527.67,653.53 L528.67,653.35 L529.67,653.18 L530.67,653.01 L531.67,652.83 L532.67,652.66 L533.67,652.49 L534.68,652.31 L535.68,652.14 L536.68,651.96 L537.68,651.79 L538.68,651.62 L539.68,651.45 L540.69,651.27 L541.69,651.10 L542.69,650.93 L543.69,650.76 L544.69,650.59 L545.69,650.41 L546.69,650.24 L547.70,650.07 L548.70,649.90 L549.70,649.73 L550.70,649.56 L551.70,649.39 L552.70,649.22 L553.71,649.06 L554.71,648.89 L555.71,648.72 L556.71,648.55 L557.71,648.39 L558.71,648.22 L559.72,648.06 L560.72,647.89 L561.72,647.73 L562.72,647.56 L563.72,647.40 L564.72,647.24 L565.72,647.07 L566.73,646.91 L567.73,646.75 L568.73,646.59 L569.73,646.43 L570.73,646.27 L571.73,646.11 L572.74,645.96 L573.74,645.80 L574.74,645.64 L575.74,645.49 L576.74,645.33 L577.74,645.18 L578.75,645.03 L579.75,644.88 L580.75,644.72 L581.75,644.57 L582.75,644.43 L583.75,644.28 L584.75,644.13 L585.76,643.98 L586.76,643.84 L587.76,643.69 L588.76,643.55 L589.76,643.41 L590.76,643.26 L591.77,643.12 L592.77,642.98 L593.77,642.84 L594.77,642.71 L595.77,642.57 L596.77,642.43 L597.77,642.30 L598.78,642.17 L599.78,642.03 L600.78,641.90 L601.78,641.77 L602.78,641.64 L603.78,641.52 L604.79,641.39 L605.79,641.27 L606.79,641.14 L607.79,641.02 L608.79,640.90 L609.79,640.78 L610.80,640.66 L611.80,640.54 L612.80,640.43 L613.80,640.31" fill="none" stroke="#ff1010" stroke-width="1.6"/>
<ellipse cx="338" cy="663.3" rx="3.8" ry="2.9" fill="#000"/>
<rect x="83.25" y="440.1" width="550.75" height="340.6" fill="none" stroke="#333" stroke-width="1.4"/>
<line x1="82.55" y1="781.0" x2="634.7" y2="781.0" stroke="#3a3a3a" stroke-width="1.8"/>
<line x1="134.00" y1="780.7" x2="134.00" y2="788.2" stroke="#333" stroke-width="1.1"/>
<text transform="matrix(1.3900,0,0,1,125.72,805.45)" font-size="10.60" fill="#222">20</text>
<line x1="236.00" y1="780.7" x2="236.00" y2="788.2" stroke="#333" stroke-width="1.1"/>
<text transform="matrix(1.3900,0,0,1,227.81,805.45)" font-size="10.60" fill="#222">30</text>
<line x1="338.00" y1="780.7" x2="338.00" y2="788.2" stroke="#333" stroke-width="1.1"/>
<text transform="matrix(1.3900,0,0,1,329.92,805.45)" font-size="10.60" fill="#222">40</text>
<line x1="440.00" y1="780.7" x2="440.00" y2="788.2" stroke="#333" stroke-width="1.1"/>
<text transform="matrix(1.3900,0,0,1,431.80,805.45)" font-size="10.60" fill="#222">50</text>
<line x1="542.00" y1="780.7" x2="542.00" y2="788.2" stroke="#333" stroke-width="1.1"/>
<text transform="matrix(1.3900,0,0,1,533.72,805.45)" font-size="10.60" fill="#222">60</text>
<line x1="74.55" y1="756.77" x2="83.25" y2="756.77" stroke="#333" stroke-width="1.1"/>
<text transform="matrix(1.3900,0,0,1,45.51,761.72)" font-size="10.60" fill="#222">0.8</text>
<line x1="74.55" y1="710.10" x2="83.25" y2="710.10" stroke="#333" stroke-width="1.1"/>
<text transform="matrix(1.3900,0,0,1,45.57,715.05)" font-size="10.60" fill="#222">0.9</text>
<line x1="74.55" y1="663.43" x2="83.25" y2="663.43" stroke="#333" stroke-width="1.1"/>
<text transform="matrix(1.3900,0,0,1,45.44,668.38)" font-size="10.60" fill="#222">1.0</text>
<line x1="74.55" y1="616.76" x2="83.25" y2="616.76" stroke="#333" stroke-width="1.1"/>
<text transform="matrix(1.3900,0,0,1,45.59,621.71)" font-size="10.60" fill="#222">1.1</text>
<line x1="74.55" y1="570.09" x2="83.25" y2="570.09" stroke="#333" stroke-width="1.1"/>
<text transform="matrix(1.3900,0,0,1,45.61,575.09)" font-size="10.60" fill="#222">1.2</text>
<line x1="74.55" y1="523.42" x2="83.25" y2="523.42" stroke="#333" stroke-width="1.1"/>
<text transform="matrix(1.3900,0,0,1,45.52,528.37)" font-size="10.60" fill="#222">1.3</text>
<line x1="74.55" y1="476.75" x2="83.25" y2="476.75" stroke="#333" stroke-width="1.1"/>
<text transform="matrix(1.3900,0,0,1,45.30,481.70)" font-size="10.60" fill="#222">1.4</text>
<line x1="634" y1="768.40" x2="642.70" y2="768.40" stroke="#333" stroke-width="1.1"/>
<text transform="matrix(1.3900,0,0,1,650.92,773.45)" font-size="10.60" fill="#222">0.00</text>
<line x1="634" y1="696.40" x2="642.70" y2="696.40" stroke="#333" stroke-width="1.1"/>
<text transform="matrix(1.3900,0,0,1,650.92,701.45)" font-size="10.60" fill="#222">0.01</text>
<line x1="634" y1="624.40" x2="642.70" y2="624.40" stroke="#333" stroke-width="1.1"/>
<text transform="matrix(1.3900,0,0,1,650.92,629.45)" font-size="10.60" fill="#222">0.02</text>
<line x1="634" y1="552.40" x2="642.70" y2="552.40" stroke="#333" stroke-width="1.1"/>
<text transform="matrix(1.3900,0,0,1,650.92,557.45)" font-size="10.60" fill="#222">0.03</text>
<line x1="634" y1="480.40" x2="642.70" y2="480.40" stroke="#333" stroke-width="1.1"/>
<text transform="matrix(1.3900,0,0,1,650.92,485.45)" font-size="10.60" fill="#222">0.04</text>
<line x1="93" y1="468.45" x2="114.25" y2="468.45" stroke="#ff2a2a" stroke-width="1.05"/>
<line x1="93" y1="497" x2="115.5" y2="497" stroke="#888" stroke-width="1.6" stroke-dasharray="5.2 4.4"/>
<text transform="matrix(0.9645,0,0,1,123.20,471.62)" font-size="13.30" fill="#1a1a1a" stroke="#1a1a1a" stroke-width="0.25">Estimation</text>
<text transform="matrix(0.8799,0,0,1,139.45,502.37)" font-size="13.30" fill="#1a1a1a" stroke="#1a1a1a" stroke-width="0.25">95% CI</text>
<text transform="matrix(1.0718,0,0,1,313.40,708.13)" font-size="11.91" fill="#1a1a1a" stroke="#1a1a1a" stroke-width="0.25">refvalue=40</text>
<text transform="translate(15.30,703.89) rotate(-90) scale(0.9435,1)" font-size="12.79" fill="#1a1a1a" stroke="#1a1a1a" stroke-width="0.2">HR whrere the refvalue for HDL is 40</text>
<text transform="matrix(1.1253,0,0,1,8.52,431.64)" font-size="16.20" fill="#1a1a1a" stroke="#1a1a1a" stroke-width="0.2">b</text>
<path d="M105.70,1176.30 L106.20,1176.30 L106.70,1176.29 L107.20,1176.29 L107.70,1176.29 L108.20,1176.28 L108.70,1176.28 L109.20,1176.28 L109.70,1176.28 L110.20,1176.28 L110.70,1176.27 L111.20,1176.27 L111.70,1176.27 L112.20,1176.26 L112.70,1176.26 L113.20,1176.26 L113.70,1176.26 L114.20,1176.25 L114.70,1176.25 L115.20,1176.24 L115.70,1176.24 L116.20,1176.23 L116.70,1176.23 L117.20,1176.22 L117.70,1176.22 L118.21,1176.21 L118.71,1176.21 L119.21,1176.20 L119.71,1176.19 L120.21,1176.18 L120.71,1176.17 L121.21,1176.17 L121.71,1176.16 L122.21,1176.15 L122.71,1176.13 L123.21,1176.12 L123.71,1176.11 L124.21,1176.10 L124.71,1176.08 L125.21,1176.07 L125.71,1176.05 L126.21,1176.04 L126.71,1176.02 L127.21,1176.00 L127.71,1175.99 L128.21,1175.97 L128.71,1175.95 L129.21,1175.93 L129.71,1175.90 L130.21,1175.88 L130.71,1175.86 L131.21,1175.83 L131.71,1175.80 L132.21,1175.78 L132.71,1175.75 L133.21,1175.72 L133.71,1175.69 L134.21,1175.66 L134.71,1175.62 L135.21,1175.59 L135.71,1175.56 L136.21,1175.52 L136.71,1175.48 L137.21,1175.44 L137.71,1175.40 L138.21,1175.36 L138.71,1175.32 L139.21,1175.27 L139.71,1175.22 L140.21,1175.18 L140.71,1175.13 L141.21,1175.08 L141.71,1175.03 L142.21,1174.97 L142.72,1174.92 L143.22,1174.86 L143.72,1174.80 L144.22,1174.74 L144.72,1174.68 L145.22,1174.62 L145.72,1174.55 L146.22,1174.48 L146.72,1174.42 L147.22,1174.35 L147.72,1174.27 L148.22,1174.20 L148.72,1174.12 L149.22,1174.05 L149.72,1173.97 L150.22,1173.88 L150.72,1173.80 L151.22,1173.72 L151.72,1173.63 L152.22,1173.54 L152.72,1173.45 L153.22,1173.35 L153.72,1173.26 L154.22,1173.16 L154.72,1173.06 L155.22,1172.96 L155.72,1172.85 L156.22,1172.75 L156.72,1172.64 L157.22,1172.53 L157.72,1172.42 L158.22,1172.30 L158.72,1172.18 L159.22,1172.06 L159.72,1171.94 L160.22,1171.81 L160.72,1171.69 L161.22,1171.56 L161.72,1171.42 L162.22,1171.29 L162.72,1171.15 L163.22,1171.01 L163.72,1170.87 L164.22,1170.73 L164.72,1170.58 L165.22,1170.43 L165.72,1170.28 L166.22,1170.12 L166.72,1169.96 L167.22,1169.80 L167.73,1169.64 L168.23,1169.47 L168.73,1169.30 L169.23,1169.13 L169.73,1168.95 L170.23,1168.78 L170.73,1168.60 L171.23,1168.41 L171.73,1168.23 L172.23,1168.04 L172.73,1167.84 L173.23,1167.64 L173.73,1167.44 L174.23,1167.23 L174.73,1167.02 L175.23,1166.80 L175.73,1166.58 L176.23,1166.35 L176.73,1166.11 L177.23,1165.86 L177.73,1165.61 L178.23,1165.35 L178.73,1165.08 L179.23,1164.80 L179.73,1164.52 L180.23,1164.22 L180.73,1163.91 L181.23,1163.59 L181.73,1163.26 L182.23,1162.92 L182.73,1162.57 L183.23,1162.21 L183.73,1161.83 L184.23,1161.44 L184.73,1161.04 L185.23,1160.63 L185.73,1160.20 L186.23,1159.75 L186.73,1159.29 L187.23,1158.82 L187.73,1158.33 L188.23,1157.82 L188.73,1157.30 L189.23,1156.76 L189.73,1156.21 L190.23,1155.63 L190.73,1155.04 L191.23,1154.43 L191.73,1153.80 L192.24,1153.16 L192.74,1152.49 L193.24,1151.80 L193.74,1151.09 L194.24,1150.37 L194.74,1149.62 L195.24,1148.85 L195.74,1148.05 L196.24,1147.24 L196.74,1146.40 L197.24,1145.54 L197.74,1144.65 L198.24,1143.75 L198.74,1142.81 L199.24,1141.86 L199.74,1140.87 L200.24,1139.87 L200.74,1138.83 L201.24,1137.77 L201.74,1136.68 L202.24,1135.55 L202.74,1134.38 L203.24,1133.16 L203.74,1131.91 L204.24,1130.60 L204.74,1129.25 L205.24,1127.83 L205.74,1126.36 L206.24,1124.83 L206.74,1123.23 L207.24,1121.56 L207.74,1119.82 L208.24,1118.03 L208.74,1116.22 L209.24,1114.41 L209.74,1112.64 L210.24,1110.93 L210.74,1109.27 L211.24,1107.67 L211.74,1106.11 L212.24,1104.59 L212.74,1103.11 L213.24,1101.65 L213.74,1100.22 L214.24,1098.80 L214.74,1097.39 L215.24,1095.98 L215.74,1094.58 L216.24,1093.17 L216.75,1091.77 L217.25,1090.37 L217.75,1088.96 L218.25,1087.56 L218.75,1086.14 L219.25,1084.73 L219.75,1083.30 L220.25,1081.87 L220.75,1080.43 L221.25,1078.99 L221.75,1077.53 L222.25,1076.06 L222.75,1074.58 L223.25,1073.08 L223.75,1071.57 L224.25,1070.05 L224.75,1068.51 L225.25,1066.95 L225.75,1065.37 L226.25,1063.77 L226.75,1062.15 L227.25,1060.51 L227.75,1058.85 L228.25,1057.16 L228.75,1055.45 L229.25,1053.71 L229.75,1051.94 L230.25,1050.15 L230.75,1048.33 L231.25,1046.49 L231.75,1044.62 L232.25,1042.73 L232.75,1040.82 L233.25,1038.88 L233.75,1036.93 L234.25,1034.97 L234.75,1032.98 L235.25,1030.99 L235.75,1028.98 L236.25,1026.96 L236.75,1024.92 L237.25,1022.88 L237.75,1020.84 L238.25,1018.79 L238.75,1016.75 L239.25,1014.71 L239.75,1012.69 L240.25,1010.68 L240.75,1008.68 L241.25,1006.71 L241.76,1004.76 L242.26,1002.82 L242.76,1000.90 L243.26,998.99 L243.76,997.08 L244.26,995.18 L244.76,993.28 L245.26,991.38 L245.76,989.47 L246.26,987.56 L246.76,985.64 L247.26,983.71 L247.76,981.76 L248.26,979.80 L248.76,977.81 L249.26,975.81 L249.76,973.80 L250.26,971.77 L250.76,969.73 L251.26,967.68 L251.76,965.63 L252.26,963.57 L252.76,961.51 L253.26,959.45 L253.76,957.40 L254.26,955.35 L254.76,953.31 L255.26,951.27 L255.76,949.25 L256.26,947.25 L256.76,945.26 L257.26,943.29 L257.76,941.34 L258.26,939.42 L258.76,937.52 L259.26,935.65 L259.76,933.81 L260.26,932.00 L260.76,930.23 L261.26,928.49 L261.76,926.80 L262.26,925.14 L262.76,923.53 L263.26,921.96 L263.76,920.42 L264.26,918.93 L264.76,917.47 L265.26,916.06 L265.76,914.68 L266.27,913.33 L266.77,912.03 L267.27,910.76 L267.77,909.52 L268.27,908.32 L268.77,907.15 L269.27,906.01 L269.77,904.90 L270.27,903.83 L270.77,902.79 L271.27,901.77 L271.77,900.79 L272.27,899.83 L272.77,898.91 L273.27,898.01 L273.77,897.13 L274.27,896.29 L274.77,895.46 L275.27,894.67 L275.77,893.89 L276.27,893.14 L276.77,892.41 L277.27,891.71 L277.77,891.03 L278.27,890.36 L278.77,889.72 L279.27,889.09 L279.77,888.49 L280.27,887.90 L280.77,887.33 L281.27,886.78 L281.77,886.24 L282.27,885.72 L282.77,885.21 L283.27,884.71 L283.77,884.23 L284.27,883.77 L284.77,883.31 L285.27,882.86 L285.77,882.43 L286.27,882.01 L286.77,881.59 L287.27,881.18 L287.77,880.78 L288.27,880.39 L288.77,880.00 L289.27,879.62 L289.77,879.24 L290.27,878.87 L290.78,878.50 L291.28,878.13 L291.78,877.76 L292.28,877.40 L292.78,877.03 L293.28,876.67 L293.78,876.30 L294.28,875.94 L294.78,875.57 L295.28,875.19 L295.78,874.82 L296.28,874.43 L296.78,874.05 L297.28,873.65 L297.78,873.25 L298.28,872.85 L298.78,872.43 L299.28,872.01 L299.78,871.57 L300.28,871.13 L300.78,870.67 L301.28,870.21 L301.78,869.73 L302.28,869.25 L302.78,868.77 L303.28,868.28 L303.78,867.79 L304.28,867.30 L304.78,866.82 L305.28,866.34 L305.78,865.86 L306.28,865.40 L306.78,864.95 L307.28,864.51 L307.78,864.08 L308.28,863.67 L308.78,863.28 L309.28,862.91 L309.78,862.56 L310.28,862.23 L310.78,861.93 L311.28,861.66 L311.78,861.42 L312.28,861.21 L312.78,861.03 L313.28,860.89 L313.78,860.78 L314.28,860.71 L314.78,860.67 L315.28,860.67 L315.79,860.69 L316.29,860.75 L316.79,860.85 L317.29,860.97 L317.79,861.13 L318.29,861.32 L318.79,861.55 L319.29,861.80 L319.79,862.09 L320.29,862.40 L320.79,862.75 L321.29,863.13 L321.79,863.54 L322.29,863.97 L322.79,864.44 L323.29,864.94 L323.79,865.47 L324.29,866.02 L324.79,866.61 L325.29,867.22 L325.79,867.86 L326.29,868.53 L326.79,869.23 L327.29,869.96 L327.79,870.71 L328.29,871.49 L328.79,872.29 L329.29,873.12 L329.79,873.98 L330.29,874.86 L330.79,875.76 L331.29,876.69 L331.79,877.64 L332.29,878.61 L332.79,879.61 L333.29,880.62 L333.79,881.66 L334.29,882.72 L334.79,883.79 L335.29,884.89 L335.79,886.00 L336.29,887.14 L336.79,888.29 L337.29,889.45 L337.79,890.63 L338.29,891.83 L338.79,893.03 L339.29,894.24 L339.79,895.46 L340.30,896.69 L340.80,897.91 L341.30,899.13 L341.80,900.36 L342.30,901.58 L342.80,902.79 L343.30,903.99 L343.80,905.18 L344.30,906.36 L344.80,907.52 L345.30,908.67 L345.80,909.79 L346.30,910.90 L346.80,911.98 L347.30,913.03 L347.80,914.06 L348.30,915.05 L348.80,916.02 L349.30,916.94 L349.80,917.84 L350.30,918.69 L350.80,919.50 L351.30,920.27 L351.80,920.99 L352.30,921.67 L352.80,922.32 L353.30,922.92 L353.80,923.49 L354.30,924.03 L354.80,924.53 L355.30,925.02 L355.80,925.47 L356.30,925.91 L356.80,926.33 L357.30,926.73 L357.80,927.12 L358.30,927.50 L358.80,927.87 L359.30,928.24 L359.80,928.60 L360.30,928.96 L360.80,929.33 L361.30,929.71 L361.80,930.09 L362.30,930.48 L362.80,930.89 L363.30,931.31 L363.80,931.75 L364.30,932.22 L364.81,932.70 L365.31,933.21 L365.81,933.73 L366.31,934.29 L366.81,934.86 L367.31,935.47 L367.81,936.09 L368.31,936.75 L368.81,937.43 L369.31,938.14 L369.81,938.88 L370.31,939.65 L370.81,940.45 L371.31,941.29 L371.81,942.15 L372.31,943.05 L372.81,943.98 L373.31,944.95 L373.81,945.95 L374.31,946.99 L374.81,948.07 L375.31,949.18 L375.81,950.33 L376.31,951.52 L376.81,952.76 L377.31,954.03 L377.81,955.35 L378.31,956.70 L378.81,958.10 L379.31,959.54 L379.81,961.00 L380.31,962.50 L380.81,964.02 L381.31,965.56 L381.81,967.13 L382.31,968.70 L382.81,970.29 L383.31,971.89 L383.81,973.49 L384.31,975.09 L384.81,976.69 L385.31,978.28 L385.81,979.87 L386.31,981.44 L386.81,983.00 L387.31,984.56 L387.81,986.10 L388.31,987.64 L388.81,989.16 L389.32,990.67 L389.82,992.17 L390.32,993.66 L390.82,995.14 L391.32,996.61 L391.82,998.07 L392.32,999.51 L392.82,1000.94 L393.32,1002.36 L393.82,1003.77 L394.32,1005.16 L394.82,1006.54 L395.32,1007.91 L395.82,1009.27 L396.32,1010.61 L396.82,1011.93 L397.32,1013.25 L397.82,1014.54 L398.32,1015.83 L398.82,1017.10 L399.32,1018.35 L399.82,1019.59 L400.32,1020.81 L400.82,1022.02 L401.32,1023.22 L401.82,1024.39 L402.32,1025.55 L402.82,1026.70 L403.32,1027.83 L403.82,1028.94 L404.32,1030.03 L404.82,1031.11 L405.32,1032.17 L405.82,1033.21 L406.32,1034.23 L406.82,1035.24 L407.32,1036.23 L407.82,1037.20 L408.32,1038.16 L408.82,1039.10 L409.32,1040.03 L409.82,1040.94 L410.32,1041.83 L410.82,1042.72 L411.32,1043.59 L411.82,1044.45 L412.32,1045.30 L412.82,1046.13 L413.32,1046.96 L413.82,1047.78 L414.33,1048.58 L414.83,1049.38 L415.33,1050.17 L415.83,1050.95 L416.33,1051.73 L416.83,1052.50 L417.33,1053.26 L417.83,1054.02 L418.33,1054.77 L418.83,1055.52 L419.33,1056.26 L419.83,1057.00 L420.33,1057.74 L420.83,1058.48 L421.33,1059.22 L421.83,1059.95 L422.33,1060.69 L422.83,1061.42 L423.33,1062.16 L423.83,1062.89 L424.33,1063.63 L424.83,1064.37 L425.33,1065.12 L425.83,1065.86 L426.33,1066.62 L426.83,1067.37 L427.33,1068.13 L427.83,1068.90 L428.33,1069.67 L428.83,1070.45 L429.33,1071.23 L429.83,1072.02 L430.33,1072.81 L430.83,1073.61 L431.33,1074.41 L431.83,1075.22 L432.33,1076.03 L432.83,1076.86 L433.33,1077.68 L433.83,1078.52 L434.33,1079.36 L434.83,1080.21 L435.33,1081.06 L435.83,1081.92 L436.33,1082.79 L436.83,1083.67 L437.33,1084.55 L437.83,1085.44 L438.33,1086.34 L438.84,1087.25 L439.34,1088.16 L439.84,1089.08 L440.34,1090.01 L440.84,1090.95 L441.34,1091.89 L441.84,1092.83 L442.34,1093.78 L442.84,1094.73 L443.34,1095.68 L443.84,1096.63 L444.34,1097.58 L444.84,1098.52 L445.34,1099.47 L445.84,1100.41 L446.34,1101.34 L446.84,1102.27 L447.34,1103.19 L447.84,1104.10 L448.34,1105.01 L448.84,1105.90 L449.34,1106.78 L449.84,1107.65 L450.34,1108.51 L450.84,1109.35 L451.34,1110.18 L451.84,1110.99 L452.34,1111.78 L452.84,1112.55 L453.34,1113.31 L453.84,1114.04 L454.34,1114.76 L454.84,1115.45 L455.34,1116.12 L455.84,1116.76 L456.34,1117.38 L456.84,1117.98 L457.34,1118.56 L457.84,1119.13 L458.34,1119.67 L458.84,1120.20 L459.34,1120.71 L459.84,1121.20 L460.34,1121.68 L460.84,1122.15 L461.34,1122.61 L461.84,1123.05 L462.34,1123.49 L462.84,1123.91 L463.35,1124.33 L463.85,1124.75 L464.35,1125.15 L464.85,1125.56 L465.35,1125.96 L465.85,1126.35 L466.35,1126.75 L466.85,1127.14 L467.35,1127.53 L467.85,1127.91 L468.35,1128.29 L468.85,1128.67 L469.35,1129.05 L469.85,1129.42 L470.35,1129.80 L470.85,1130.16 L471.35,1130.53 L471.85,1130.89 L472.35,1131.25 L472.85,1131.61 L473.35,1131.96 L473.85,1132.32 L474.35,1132.67 L474.85,1133.01 L475.35,1133.36 L475.85,1133.70 L476.35,1134.04 L476.85,1134.38 L477.35,1134.71 L477.85,1135.04 L478.35,1135.37 L478.85,1135.70 L479.35,1136.02 L479.85,1136.35 L480.35,1136.67 L480.85,1136.99 L481.35,1137.30 L481.85,1137.62 L482.35,1137.93 L482.85,1138.24 L483.35,1138.54 L483.85,1138.85 L484.35,1139.15 L484.85,1139.45 L485.35,1139.75 L485.85,1140.05 L486.35,1140.34 L486.85,1140.64 L487.35,1140.93 L487.85,1141.22 L488.36,1141.50 L488.86,1141.79 L489.36,1142.07 L489.86,1142.35 L490.36,1142.63 L490.86,1142.91 L491.36,1143.19 L491.86,1143.46 L492.36,1143.73 L492.86,1144.01 L493.36,1144.28 L493.86,1144.54 L494.36,1144.81 L494.86,1145.07 L495.36,1145.34 L495.86,1145.60 L496.36,1145.86 L496.86,1146.12 L497.36,1146.38 L497.86,1146.63 L498.36,1146.89 L498.86,1147.14 L499.36,1147.39 L499.86,1147.64 L500.36,1147.89 L500.86,1148.14 L501.36,1148.38 L501.86,1148.63 L502.36,1148.87 L502.86,1149.12 L503.36,1149.36 L503.86,1149.60 L504.36,1149.84 L504.86,1150.08 L505.36,1150.31 L505.86,1150.55 L506.36,1150.79 L506.86,1151.02 L507.36,1151.25 L507.86,1151.49 L508.36,1151.72 L508.86,1151.95 L509.36,1152.18 L509.86,1152.41 L510.36,1152.63 L510.86,1152.86 L511.36,1153.09 L511.86,1153.31 L512.36,1153.54 L512.87,1153.76 L513.37,1153.99 L513.87,1154.21 L514.37,1154.43 L514.87,1154.65 L515.37,1154.87 L515.87,1155.09 L516.37,1155.31 L516.87,1155.53 L517.37,1155.75 L517.87,1155.96 L518.37,1156.18 L518.87,1156.40 L519.37,1156.61 L519.87,1156.82 L520.37,1157.03 L520.87,1157.25 L521.37,1157.46 L521.87,1157.67 L522.37,1157.88 L522.87,1158.08 L523.37,1158.29 L523.87,1158.50 L524.37,1158.70 L524.87,1158.91 L525.37,1159.11 L525.87,1159.31 L526.37,1159.52 L526.87,1159.72 L527.37,1159.92 L527.87,1160.12 L528.37,1160.31 L528.87,1160.51 L529.37,1160.71 L529.87,1160.90 L530.37,1161.10 L530.87,1161.29 L531.37,1161.48 L531.87,1161.68 L532.37,1161.87 L532.87,1162.06 L533.37,1162.24 L533.87,1162.43 L534.37,1162.62 L534.87,1162.80 L535.37,1162.99 L535.87,1163.17 L536.37,1163.36 L536.87,1163.54 L537.38,1163.72 L537.88,1163.90 L538.38,1164.08 L538.88,1164.25 L539.38,1164.43 L539.88,1164.61 L540.38,1164.78 L540.88,1164.95 L541.38,1165.12 L541.88,1165.30 L542.38,1165.47 L542.88,1165.64 L543.38,1165.80 L543.88,1165.97 L544.38,1166.14 L544.88,1166.30 L545.38,1166.46 L545.88,1166.63 L546.38,1166.79 L546.88,1166.95 L547.38,1167.11 L547.88,1167.26 L548.38,1167.42 L548.88,1167.58 L549.38,1167.73 L549.88,1167.88 L550.38,1168.04 L550.88,1168.19 L551.38,1168.34 L551.88,1168.49 L552.38,1168.63 L552.88,1168.78 L553.38,1168.92 L553.88,1169.07 L554.38,1169.21 L554.88,1169.35 L555.38,1169.49 L555.88,1169.63 L556.38,1169.77 L556.88,1169.91 L557.38,1170.04 L557.88,1170.17 L558.38,1170.31 L558.88,1170.44 L559.38,1170.57 L559.88,1170.70 L560.38,1170.83 L560.88,1170.95 L561.38,1171.08 L561.88,1171.20 L562.39,1171.32 L562.89,1171.44 L563.39,1171.56 L563.89,1171.68 L564.39,1171.80 L564.89,1171.92 L565.39,1172.03 L565.89,1172.14 L566.39,1172.26 L566.89,1172.37 L567.39,1172.48 L567.89,1172.58 L568.39,1172.69 L568.89,1172.80 L569.39,1172.90 L569.89,1173.00 L570.39,1173.10 L570.89,1173.20 L571.39,1173.30 L571.89,1173.40 L572.39,1173.49 L572.89,1173.59 L573.39,1173.68 L573.89,1173.77 L574.39,1173.86 L574.89,1173.95 L575.39,1174.04 L575.89,1174.12 L576.39,1174.21 L576.89,1174.29 L577.39,1174.37 L577.89,1174.45 L578.39,1174.53 L578.89,1174.60 L579.39,1174.68 L579.89,1174.75 L580.39,1174.83 L580.89,1174.90 L581.39,1174.97 L581.89,1175.03 L582.39,1175.10 L582.89,1175.16 L583.39,1175.23 L583.89,1175.29 L584.39,1175.35 L584.89,1175.41 L585.39,1175.47 L585.89,1175.52 L586.39,1175.57 L586.90,1175.63 L587.40,1175.68 L587.90,1175.73 L588.40,1175.78 L588.90,1175.82 L589.40,1175.87 L589.90,1175.91 L590.40,1175.95 L590.90,1175.99 L591.40,1176.03 L591.90,1176.06 L592.40,1176.10 L592.90,1176.13 L593.40,1176.16 L593.90,1176.19 L594.40,1176.22 L594.90,1176.25 L595.40,1176.27 L595.90,1176.30 L596.40,1176.30 L596.90,1176.30 L597.40,1176.30 L597.90,1176.30 L598.40,1176.30 L598.90,1176.30 L598.90,1176.30 L105.70,1176.30 Z" fill="#ffb9a8" stroke="#fb9a84" stroke-width="0.8"/>
<line x1="105.7" y1="1119.8" x2="598.9" y2="1119.8" stroke="#747474" stroke-width="1.25" stroke-dasharray="2.1 2.65"/>
<path d="M105.70,860.31 L106.70,862.70 L107.70,865.13 L108.70,867.60 L109.70,870.10 L110.70,872.62 L111.70,875.17 L112.70,877.73 L113.70,880.31 L114.70,882.89 L115.70,885.48 L116.70,888.06 L117.70,890.63 L118.70,893.20 L119.70,895.75 L120.70,898.27 L121.70,900.77 L122.70,903.24 L123.70,905.67 L124.70,908.07 L125.70,910.41 L126.70,912.71 L127.70,914.96 L128.70,917.16 L129.70,919.31 L130.70,921.44 L131.70,923.53 L132.70,925.59 L133.70,927.64 L134.70,929.68 L135.70,931.70 L136.70,933.73 L137.70,935.75 L138.70,937.79 L139.70,939.84 L140.70,941.91 L141.70,944.01 L142.70,946.13 L143.70,948.29 L144.70,950.50 L145.70,952.73 L146.70,954.98 L147.70,957.23 L148.70,959.46 L149.70,961.66 L150.70,963.83 L151.70,965.96 L152.70,968.05 L153.70,970.11 L154.70,972.14 L155.70,974.13 L156.70,976.10 L157.70,978.03 L158.70,979.94 L159.70,981.83 L160.70,983.69 L161.70,985.52 L162.70,987.34 L163.70,989.13 L164.70,990.90 L165.70,992.65 L166.70,994.37 L167.70,996.08 L168.70,997.76 L169.70,999.42 L170.70,1001.07 L171.70,1002.69 L172.70,1004.28 L173.70,1005.86 L174.70,1007.42 L175.70,1008.96 L176.70,1010.48 L177.70,1011.97 L178.70,1013.45 L179.70,1014.91 L180.70,1016.35 L181.70,1017.76 L182.70,1019.16 L183.70,1020.54 L184.70,1021.90 L185.70,1023.25 L186.70,1024.57 L187.70,1025.87 L188.70,1027.16 L189.70,1028.43 L190.70,1029.68 L191.70,1030.91 L192.70,1032.12 L193.70,1033.31 L194.70,1034.49 L195.70,1035.65 L196.70,1036.79 L197.70,1037.91 L198.70,1039.01 L199.70,1040.10 L200.70,1041.17 L201.70,1042.22 L202.70,1043.25 L203.70,1044.27 L204.70,1045.27 L205.70,1046.25 L206.70,1047.21 L207.70,1048.16 L208.70,1049.09 L209.70,1050.00 L210.70,1050.90 L211.70,1051.78 L212.70,1052.64 L213.70,1053.49 L214.70,1054.32 L215.70,1055.13 L216.70,1055.93 L217.70,1056.71 L218.70,1057.47 L219.70,1058.22 L220.70,1058.95 L221.70,1059.67 L222.70,1060.37 L223.70,1061.06 L224.70,1061.73 L225.70,1062.39 L226.70,1063.03 L227.70,1063.66 L228.70,1064.28 L229.70,1064.89 L230.70,1065.49 L231.70,1066.07 L232.70,1066.64 L233.70,1067.21 L234.70,1067.76 L235.70,1068.31 L236.70,1068.84 L237.70,1069.37 L238.70,1069.89 L239.70,1070.40 L240.70,1070.91 L241.70,1071.41 L242.70,1071.90 L243.70,1072.39 L244.70,1072.87 L245.70,1073.35 L246.70,1073.83 L247.70,1074.30 L248.70,1074.76 L249.70,1075.23 L250.70,1075.69 L251.70,1076.15 L252.70,1076.61 L253.70,1077.07 L254.70,1077.53 L255.70,1077.99 L256.70,1078.45 L257.70,1078.91 L258.70,1079.37 L259.70,1079.83 L260.70,1080.30 L261.70,1080.77 L262.70,1081.24 L263.70,1081.72 L264.70,1082.20 L265.70,1082.68 L266.70,1083.17 L267.70,1083.67 L268.70,1084.17 L269.70,1084.68 L270.70,1085.19 L271.70,1085.72 L272.70,1086.25 L273.70,1086.78 L274.70,1087.33 L275.70,1087.88 L276.70,1088.43 L277.70,1088.99 L278.70,1089.56 L279.70,1090.13 L280.70,1090.71 L281.70,1091.30 L282.70,1091.88 L283.70,1092.48 L284.70,1093.08 L285.70,1093.68 L286.70,1094.29 L287.70,1094.90 L288.70,1095.51 L289.70,1096.13 L290.70,1096.75 L291.70,1097.38 L292.70,1098.01 L293.70,1098.64 L294.70,1099.27 L295.70,1099.91 L296.70,1100.55 L297.70,1101.19 L298.70,1101.84 L299.70,1102.48 L300.70,1103.12 L301.70,1103.76 L302.70,1104.40 L303.70,1105.03 L304.70,1105.66 L305.70,1106.28 L306.70,1106.89 L307.70,1107.50 L308.70,1108.10 L309.70,1108.68 L310.70,1109.26 L311.70,1109.83 L312.70,1110.38 L313.70,1110.93 L314.70,1111.46 L315.70,1111.98 L316.70,1112.49 L317.70,1112.99 L318.70,1113.49 L319.70,1113.97 L320.70,1114.44 L321.70,1114.90 L322.70,1115.35 L323.70,1115.79 L324.70,1116.22 L325.70,1116.64 L326.70,1117.05 L327.70,1117.46 L328.70,1117.85 L329.70,1118.23 L330.70,1118.61 L331.70,1118.97 L332.70,1119.33 L333.70,1119.67 L334.70,1120.01 L335.70,1120.34 L336.70,1120.66 L337.70,1120.97 L338.70,1121.28 L339.70,1121.57 L340.70,1121.86 L341.70,1122.14 L342.70,1122.42 L343.70,1122.68 L344.70,1122.94 L345.70,1123.20 L346.70,1123.44 L347.70,1123.68 L348.70,1123.92 L349.70,1124.14 L350.70,1124.36 L351.70,1124.58 L352.70,1124.79 L353.70,1124.99 L354.70,1125.19 L355.70,1125.39 L356.70,1125.58 L357.70,1125.76 L358.70,1125.94 L359.70,1126.12 L360.70,1126.29 L361.70,1126.46 L362.70,1126.62 L363.70,1126.78 L364.70,1126.94 L365.70,1127.09 L366.70,1127.25 L367.70,1127.39 L368.70,1127.54 L369.70,1127.68 L370.70,1127.82 L371.70,1127.96 L372.70,1128.10 L373.70,1128.24 L374.70,1128.37 L375.70,1128.50 L376.70,1128.63 L377.70,1128.76 L378.70,1128.89 L379.70,1129.02 L380.70,1129.15 L381.70,1129.28 L382.70,1129.41 L383.70,1129.54 L384.70,1129.66 L385.70,1129.79 L386.70,1129.92 L387.70,1130.05 L388.70,1130.19 L389.70,1130.32 L390.70,1130.45 L391.70,1130.59 L392.70,1130.73 L393.70,1130.87 L394.70,1131.01 L395.70,1131.15 L396.70,1131.30 L397.70,1131.45 L398.70,1131.60 L399.70,1131.75 L400.70,1131.91 L401.70,1132.07 L402.70,1132.23 L403.70,1132.40 L404.70,1132.57 L405.70,1132.73 L406.70,1132.91 L407.70,1133.08 L408.70,1133.26 L409.70,1133.44 L410.70,1133.62 L411.70,1133.80 L412.70,1133.99 L413.70,1134.18 L414.70,1134.37 L415.70,1134.56 L416.70,1134.75 L417.70,1134.95 L418.70,1135.14 L419.70,1135.34 L420.70,1135.55 L421.70,1135.75 L422.70,1135.95 L423.70,1136.16 L424.70,1136.37 L425.70,1136.58 L426.70,1136.79 L427.70,1137.00 L428.70,1137.22 L429.70,1137.44 L430.70,1137.65 L431.70,1137.87 L432.70,1138.09 L433.70,1138.32 L434.70,1138.54 L435.70,1138.76 L436.70,1138.99 L437.70,1139.22 L438.70,1139.45 L439.70,1139.67 L440.70,1139.90 L441.70,1140.14 L442.70,1140.37 L443.70,1140.60 L444.70,1140.84 L445.70,1141.07 L446.70,1141.31 L447.70,1141.54 L448.70,1141.78 L449.70,1142.02 L450.70,1142.26 L451.70,1142.50 L452.70,1142.74 L453.70,1142.98 L454.70,1143.22 L455.70,1143.46 L456.70,1143.70 L457.70,1143.95 L458.70,1144.19 L459.70,1144.43 L460.70,1144.68 L461.70,1144.92 L462.70,1145.17 L463.70,1145.41 L464.70,1145.66 L465.70,1145.90 L466.70,1146.15 L467.70,1146.40 L468.70,1146.64 L469.70,1146.89 L470.70,1147.14 L471.70,1147.38 L472.70,1147.63 L473.70,1147.88 L474.70,1148.13 L475.70,1148.38 L476.70,1148.63 L477.70,1148.87 L478.70,1149.12 L479.70,1149.37 L480.70,1149.62 L481.70,1149.87 L482.70,1150.12 L483.70,1150.37 L484.70,1150.62 L485.70,1150.87 L486.70,1151.12 L487.70,1151.37 L488.70,1151.62 L489.70,1151.87 L490.70,1152.12 L491.70,1152.37 L492.70,1152.62 L493.70,1152.87 L494.70,1153.12 L495.70,1153.37 L496.70,1153.62 L497.70,1153.87 L498.70,1154.12 L499.70,1154.37 L500.70,1154.62 L501.70,1154.87 L502.70,1155.12 L503.70,1155.37 L504.70,1155.61 L505.70,1155.86 L506.70,1156.11 L507.70,1156.36 L508.70,1156.61 L509.70,1156.86 L510.70,1157.10 L511.70,1157.35 L512.70,1157.60 L513.70,1157.84 L514.70,1158.09 L515.70,1158.34 L516.70,1158.58 L517.70,1158.83 L518.70,1159.07 L519.70,1159.32 L520.70,1159.56 L521.70,1159.80 L522.70,1160.05 L523.70,1160.29 L524.70,1160.53 L525.70,1160.77 L526.70,1161.02 L527.70,1161.26 L528.70,1161.50 L529.70,1161.74 L530.70,1161.98 L531.70,1162.22 L532.70,1162.45 L533.70,1162.69 L534.70,1162.93 L535.70,1163.17 L536.70,1163.40 L537.70,1163.64 L538.70,1163.87 L539.70,1164.11 L540.70,1164.34 L541.70,1164.57 L542.70,1164.80 L543.70,1165.04 L544.70,1165.27 L545.70,1165.50 L546.70,1165.73 L547.70,1165.95 L548.70,1166.18 L549.70,1166.41 L550.70,1166.64 L551.70,1166.86 L552.70,1167.09 L553.70,1167.31 L554.70,1167.53 L555.70,1167.75 L556.70,1167.97 L557.70,1168.19 L558.70,1168.41 L559.70,1168.63 L560.70,1168.85 L561.70,1169.07 L562.70,1169.28 L563.70,1169.50 L564.70,1169.71 L565.70,1169.92 L566.70,1170.13 L567.70,1170.35 L568.70,1170.55 L569.70,1170.76 L570.70,1170.97 L571.70,1171.18 L572.70,1171.38 L573.70,1171.59 L574.70,1171.79 L575.70,1171.99 L576.70,1172.19 L577.70,1172.39 L578.70,1172.59 L579.70,1172.79 L580.70,1172.98 L581.70,1173.18 L582.70,1173.37 L583.70,1173.57 L584.70,1173.76 L585.70,1173.95 L586.70,1174.14 L587.70,1174.32 L588.70,1174.51 L589.70,1174.69 L590.70,1174.88 L591.70,1175.06 L592.70,1175.24 L593.70,1175.42 L594.70,1175.60 L595.70,1175.77 L596.70,1175.95 L597.70,1176.12 L598.70,1176.29" fill="none" stroke="#1a1a1a" stroke-width="1.35" stroke-dasharray="6 4.6"/>
<path d="M105.30,1119.90 L106.30,1119.88 L107.30,1119.86 L108.30,1119.83 L109.30,1119.79 L110.31,1119.75 L111.31,1119.70 L112.31,1119.64 L113.31,1119.58 L114.31,1119.52 L115.31,1119.45 L116.31,1119.38 L117.31,1119.30 L118.31,1119.22 L119.31,1119.13 L120.32,1119.04 L121.32,1118.95 L122.32,1118.85 L123.32,1118.75 L124.32,1118.65 L125.32,1118.55 L126.32,1118.44 L127.32,1118.33 L128.32,1118.21 L129.32,1118.10 L130.33,1117.98 L131.33,1117.87 L132.33,1117.75 L133.33,1117.63 L134.33,1117.51 L135.33,1117.39 L136.33,1117.26 L137.33,1117.14 L138.33,1117.02 L139.33,1116.90 L140.34,1116.77 L141.34,1116.65 L142.34,1116.53 L143.34,1116.41 L144.34,1116.29 L145.34,1116.17 L146.34,1116.06 L147.34,1115.94 L148.34,1115.83 L149.34,1115.72 L150.35,1115.61 L151.35,1115.50 L152.35,1115.40 L153.35,1115.30 L154.35,1115.20 L155.35,1115.11 L156.35,1115.02 L157.35,1114.93 L158.35,1114.85 L159.35,1114.77 L160.36,1114.70 L161.36,1114.63 L162.36,1114.56 L163.36,1114.50 L164.36,1114.45 L165.36,1114.40 L166.36,1114.35 L167.36,1114.32 L168.36,1114.28 L169.36,1114.26 L170.37,1114.24 L171.37,1114.22 L172.37,1114.22 L173.37,1114.22 L174.37,1114.23 L175.37,1114.24 L176.37,1114.26 L177.37,1114.29 L178.37,1114.33 L179.38,1114.38 L180.38,1114.43 L181.38,1114.49 L182.38,1114.57 L183.38,1114.65 L184.38,1114.74 L185.38,1114.84 L186.38,1114.95 L187.38,1115.06 L188.38,1115.19 L189.39,1115.33 L190.39,1115.48 L191.39,1115.64 L192.39,1115.80 L193.39,1115.98 L194.39,1116.16 L195.39,1116.35 L196.39,1116.55 L197.39,1116.76 L198.39,1116.97 L199.40,1117.19 L200.40,1117.42 L201.40,1117.66 L202.40,1117.90 L203.40,1118.15 L204.40,1118.40 L205.40,1118.66 L206.40,1118.92 L207.40,1119.19 L208.40,1119.46 L209.41,1119.74 L210.41,1120.02 L211.41,1120.30 L212.41,1120.59 L213.41,1120.88 L214.41,1121.18 L215.41,1121.48 L216.41,1121.78 L217.41,1122.08 L218.41,1122.38 L219.42,1122.69 L220.42,1123.00 L221.42,1123.30 L222.42,1123.61 L223.42,1123.92 L224.42,1124.23 L225.42,1124.54 L226.42,1124.85 L227.42,1125.16 L228.42,1125.47 L229.43,1125.77 L230.43,1126.08 L231.43,1126.38 L232.43,1126.68 L233.43,1126.98 L234.43,1127.28 L235.43,1127.58 L236.43,1127.87 L237.43,1128.16 L238.43,1128.44 L239.44,1128.72 L240.44,1129.00 L241.44,1129.27 L242.44,1129.54 L243.44,1129.80 L244.44,1130.06 L245.44,1130.31 L246.44,1130.56 L247.44,1130.80 L248.45,1131.03 L249.45,1131.26 L250.45,1131.48 L251.45,1131.70 L252.45,1131.90 L253.45,1132.10 L254.45,1132.30 L255.45,1132.48 L256.45,1132.66 L257.45,1132.82 L258.46,1132.98 L259.46,1133.13 L260.46,1133.27 L261.46,1133.40 L262.46,1133.52 L263.46,1133.63 L264.46,1133.73 L265.46,1133.82 L266.46,1133.90 L267.46,1133.96 L268.47,1134.02 L269.47,1134.06 L270.47,1134.09 L271.47,1134.11 L272.47,1134.12 L273.47,1134.11 L274.47,1134.09 L275.47,1134.06 L276.47,1134.02 L277.47,1133.97 L278.48,1133.90 L279.48,1133.83 L280.48,1133.74 L281.48,1133.65 L282.48,1133.54 L283.48,1133.42 L284.48,1133.29 L285.48,1133.16 L286.48,1133.01 L287.48,1132.86 L288.49,1132.70 L289.49,1132.53 L290.49,1132.35 L291.49,1132.16 L292.49,1131.97 L293.49,1131.77 L294.49,1131.56 L295.49,1131.34 L296.49,1131.12 L297.49,1130.89 L298.50,1130.66 L299.50,1130.42 L300.50,1130.18 L301.50,1129.93 L302.50,1129.67 L303.50,1129.41 L304.50,1129.15 L305.50,1128.88 L306.50,1128.61 L307.50,1128.34 L308.51,1128.06 L309.51,1127.78 L310.51,1127.49 L311.51,1127.20 L312.51,1126.91 L313.51,1126.62 L314.51,1126.33 L315.51,1126.03 L316.51,1125.73 L317.52,1125.43 L318.52,1125.13 L319.52,1124.82 L320.52,1124.52 L321.52,1124.21 L322.52,1123.90 L323.52,1123.59 L324.52,1123.29 L325.52,1122.98 L326.52,1122.67 L327.53,1122.35 L328.53,1122.04 L329.53,1121.73 L330.53,1121.42 L331.53,1121.11 L332.53,1120.80 L333.53,1120.49 L334.53,1120.19 L335.53,1119.88 L336.53,1119.57 L337.54,1119.27 L338.54,1118.97 L339.54,1118.67 L340.54,1118.37 L341.54,1118.07 L342.54,1117.78 L343.54,1117.48 L344.54,1117.19 L345.54,1116.91 L346.54,1116.62 L347.55,1116.34 L348.55,1116.06 L349.55,1115.79 L350.55,1115.51 L351.55,1115.25 L352.55,1114.98 L353.55,1114.72 L354.55,1114.47 L355.55,1114.21 L356.55,1113.97 L357.56,1113.72 L358.56,1113.49 L359.56,1113.25 L360.56,1113.02 L361.56,1112.80 L362.56,1112.57 L363.56,1112.35 L364.56,1112.14 L365.56,1111.93 L366.56,1111.72 L367.57,1111.51 L368.57,1111.31 L369.57,1111.10 L370.57,1110.90 L371.57,1110.70 L372.57,1110.51 L373.57,1110.31 L374.57,1110.12 L375.57,1109.92 L376.57,1109.73 L377.58,1109.54 L378.58,1109.35 L379.58,1109.15 L380.58,1108.96 L381.58,1108.77 L382.58,1108.58 L383.58,1108.38 L384.58,1108.19 L385.58,1107.99 L386.58,1107.79 L387.59,1107.60 L388.59,1107.39 L389.59,1107.19 L390.59,1106.99 L391.59,1106.78 L392.59,1106.57 L393.59,1106.35 L394.59,1106.14 L395.59,1105.92 L396.60,1105.69 L397.60,1105.47 L398.60,1105.23 L399.60,1105.00 L400.60,1104.76 L401.60,1104.51 L402.60,1104.26 L403.60,1104.01 L404.60,1103.75 L405.60,1103.48 L406.61,1103.21 L407.61,1102.93 L408.61,1102.65 L409.61,1102.36 L410.61,1102.07 L411.61,1101.77 L412.61,1101.46 L413.61,1101.15 L414.61,1100.83 L415.61,1100.51 L416.62,1100.18 L417.62,1099.84 L418.62,1099.50 L419.62,1099.16 L420.62,1098.81 L421.62,1098.45 L422.62,1098.09 L423.62,1097.72 L424.62,1097.35 L425.62,1096.98 L426.63,1096.59 L427.63,1096.21 L428.63,1095.82 L429.63,1095.42 L430.63,1095.02 L431.63,1094.61 L432.63,1094.20 L433.63,1093.79 L434.63,1093.37 L435.63,1092.94 L436.64,1092.52 L437.64,1092.08 L438.64,1091.65 L439.64,1091.20 L440.64,1090.76 L441.64,1090.31 L442.64,1089.86 L443.64,1089.40 L444.64,1088.93 L445.64,1088.47 L446.65,1088.00 L447.65,1087.53 L448.65,1087.05 L449.65,1086.57 L450.65,1086.08 L451.65,1085.59 L452.65,1085.10 L453.65,1084.60 L454.65,1084.10 L455.65,1083.60 L456.66,1083.10 L457.66,1082.59 L458.66,1082.07 L459.66,1081.56 L460.66,1081.04 L461.66,1080.52 L462.66,1079.99 L463.66,1079.46 L464.66,1078.93 L465.67,1078.40 L466.67,1077.86 L467.67,1077.32 L468.67,1076.78 L469.67,1076.24 L470.67,1075.69 L471.67,1075.14 L472.67,1074.59 L473.67,1074.03 L474.67,1073.48 L475.68,1072.92 L476.68,1072.35 L477.68,1071.79 L478.68,1071.22 L479.68,1070.66 L480.68,1070.09 L481.68,1069.51 L482.68,1068.94 L483.68,1068.36 L484.68,1067.78 L485.69,1067.21 L486.69,1066.62 L487.69,1066.04 L488.69,1065.46 L489.69,1064.87 L490.69,1064.28 L491.69,1063.69 L492.69,1063.10 L493.69,1062.51 L494.69,1061.92 L495.70,1061.32 L496.70,1060.73 L497.70,1060.13 L498.70,1059.53 L499.70,1058.93 L500.70,1058.33 L501.70,1057.73 L502.70,1057.13 L503.70,1056.53 L504.70,1055.93 L505.71,1055.32 L506.71,1054.72 L507.71,1054.11 L508.71,1053.51 L509.71,1052.90 L510.71,1052.30 L511.71,1051.69 L512.71,1051.08 L513.71,1050.47 L514.71,1049.87 L515.72,1049.26 L516.72,1048.65 L517.72,1048.04 L518.72,1047.43 L519.72,1046.81 L520.72,1046.20 L521.72,1045.59 L522.72,1044.97 L523.72,1044.36 L524.72,1043.74 L525.73,1043.12 L526.73,1042.50 L527.73,1041.88 L528.73,1041.25 L529.73,1040.63 L530.73,1040.00 L531.73,1039.38 L532.73,1038.75 L533.73,1038.11 L534.74,1037.48 L535.74,1036.85 L536.74,1036.21 L537.74,1035.57 L538.74,1034.93 L539.74,1034.28 L540.74,1033.64 L541.74,1032.99 L542.74,1032.34 L543.74,1031.68 L544.75,1031.03 L545.75,1030.37 L546.75,1029.71 L547.75,1029.04 L548.75,1028.38 L549.75,1027.71 L550.75,1027.04 L551.75,1026.36 L552.75,1025.68 L553.75,1025.00 L554.76,1024.32 L555.76,1023.63 L556.76,1022.94 L557.76,1022.24 L558.76,1021.54 L559.76,1020.84 L560.76,1020.13 L561.76,1019.43 L562.76,1018.71 L563.76,1018.00 L564.77,1017.28 L565.77,1016.55 L566.77,1015.82 L567.77,1015.09 L568.77,1014.35 L569.77,1013.61 L570.77,1012.87 L571.77,1012.12 L572.77,1011.36 L573.77,1010.60 L574.78,1009.84 L575.78,1009.07 L576.78,1008.30 L577.78,1007.53 L578.78,1006.74 L579.78,1005.96 L580.78,1005.17 L581.78,1004.37 L582.78,1003.57 L583.78,1002.76 L584.79,1001.95 L585.79,1001.13 L586.79,1000.31 L587.79,999.48 L588.79,998.65 L589.79,997.81 L590.79,996.97 L591.79,996.12 L592.79,995.26 L593.79,994.40 L594.80,993.53 L595.80,992.66 L596.80,991.78 L597.80,990.90 L598.80,990.00" fill="none" stroke="#1a1a1a" stroke-width="1.35" stroke-dasharray="6 4.6"/>
<path d="M105.75,1020.49 L106.75,1021.22 L107.75,1021.95 L108.75,1022.67 L109.75,1023.40 L110.75,1024.12 L111.75,1024.84 L112.75,1025.56 L113.75,1026.27 L114.75,1026.98 L115.75,1027.70 L116.75,1028.41 L117.75,1029.11 L118.75,1029.82 L119.75,1030.52 L120.75,1031.22 L121.75,1031.92 L122.75,1032.61 L123.75,1033.30 L124.75,1033.99 L125.75,1034.68 L126.75,1035.37 L127.75,1036.05 L128.75,1036.73 L129.75,1037.40 L130.75,1038.08 L131.75,1038.75 L132.75,1039.42 L133.75,1040.08 L134.75,1040.74 L135.75,1041.40 L136.75,1042.06 L137.75,1042.71 L138.75,1043.36 L139.75,1044.01 L140.75,1044.65 L141.75,1045.29 L142.75,1045.93 L143.75,1046.56 L144.75,1047.19 L145.75,1047.82 L146.75,1048.45 L147.75,1049.08 L148.75,1049.70 L149.75,1050.33 L150.75,1050.95 L151.75,1051.57 L152.75,1052.19 L153.75,1052.81 L154.75,1053.43 L155.76,1054.05 L156.76,1054.67 L157.76,1055.29 L158.76,1055.91 L159.76,1056.54 L160.76,1057.16 L161.76,1057.78 L162.76,1058.41 L163.76,1059.04 L164.76,1059.67 L165.76,1060.29 L166.76,1060.92 L167.76,1061.55 L168.76,1062.18 L169.76,1062.82 L170.76,1063.45 L171.76,1064.08 L172.76,1064.71 L173.76,1065.34 L174.76,1065.97 L175.76,1066.60 L176.76,1067.24 L177.76,1067.87 L178.76,1068.50 L179.76,1069.12 L180.76,1069.75 L181.76,1070.38 L182.76,1071.01 L183.76,1071.63 L184.76,1072.25 L185.76,1072.88 L186.76,1073.50 L187.76,1074.12 L188.76,1074.73 L189.76,1075.35 L190.76,1075.96 L191.76,1076.57 L192.76,1077.18 L193.76,1077.79 L194.76,1078.39 L195.76,1079.00 L196.76,1079.60 L197.76,1080.19 L198.76,1080.79 L199.76,1081.38 L200.76,1081.96 L201.76,1082.55 L202.76,1083.13 L203.76,1083.71 L204.76,1084.28 L205.76,1084.85 L206.76,1085.42 L207.76,1085.98 L208.76,1086.54 L209.76,1087.09 L210.76,1087.65 L211.76,1088.19 L212.76,1088.73 L213.76,1089.27 L214.76,1089.80 L215.76,1090.33 L216.76,1090.85 L217.76,1091.37 L218.76,1091.88 L219.76,1092.39 L220.76,1092.89 L221.76,1093.39 L222.76,1093.88 L223.76,1094.37 L224.76,1094.85 L225.76,1095.33 L226.76,1095.80 L227.76,1096.27 L228.76,1096.73 L229.76,1097.19 L230.76,1097.64 L231.76,1098.08 L232.76,1098.53 L233.76,1098.96 L234.76,1099.39 L235.76,1099.82 L236.76,1100.24 L237.76,1100.66 L238.76,1101.07 L239.76,1101.48 L240.76,1101.88 L241.76,1102.28 L242.76,1102.67 L243.76,1103.06 L244.76,1103.44 L245.76,1103.82 L246.76,1104.19 L247.76,1104.56 L248.76,1104.93 L249.76,1105.29 L250.76,1105.64 L251.76,1105.99 L252.76,1106.34 L253.77,1106.68 L254.77,1107.01 L255.77,1107.34 L256.77,1107.67 L257.77,1107.99 L258.77,1108.31 L259.77,1108.62 L260.77,1108.93 L261.77,1109.23 L262.77,1109.53 L263.77,1109.83 L264.77,1110.12 L265.77,1110.40 L266.77,1110.68 L267.77,1110.96 L268.77,1111.23 L269.77,1111.50 L270.77,1111.76 L271.77,1112.02 L272.77,1112.28 L273.77,1112.53 L274.77,1112.77 L275.77,1113.01 L276.77,1113.25 L277.77,1113.48 L278.77,1113.71 L279.77,1113.94 L280.77,1114.16 L281.77,1114.37 L282.77,1114.58 L283.77,1114.79 L284.77,1114.99 L285.77,1115.19 L286.77,1115.38 L287.77,1115.57 L288.77,1115.76 L289.77,1115.94 L290.77,1116.12 L291.77,1116.29 L292.77,1116.46 L293.77,1116.63 L294.77,1116.79 L295.77,1116.95 L296.77,1117.10 L297.77,1117.25 L298.77,1117.40 L299.77,1117.54 L300.77,1117.67 L301.77,1117.81 L302.77,1117.94 L303.77,1118.06 L304.77,1118.18 L305.77,1118.30 L306.77,1118.42 L307.77,1118.53 L308.77,1118.64 L309.77,1118.74 L310.77,1118.84 L311.77,1118.94 L312.77,1119.03 L313.77,1119.12 L314.77,1119.21 L315.77,1119.29 L316.77,1119.37 L317.77,1119.45 L318.77,1119.52 L319.77,1119.59 L320.77,1119.66 L321.77,1119.72 L322.77,1119.78 L323.77,1119.84 L324.77,1119.90 L325.77,1119.95 L326.77,1120.00 L327.77,1120.04 L328.77,1120.09 L329.77,1120.13 L330.77,1120.16 L331.77,1120.20 L332.77,1120.23 L333.77,1120.26 L334.77,1120.29 L335.77,1120.31 L336.77,1120.34 L337.77,1120.36 L338.77,1120.37 L339.77,1120.39 L340.77,1120.40 L341.77,1120.41 L342.77,1120.42 L343.77,1120.42 L344.77,1120.43 L345.77,1120.43 L346.77,1120.43 L347.77,1120.43 L348.77,1120.42 L349.77,1120.41 L350.77,1120.40 L351.77,1120.39 L352.78,1120.38 L353.78,1120.37 L354.78,1120.35 L355.78,1120.33 L356.78,1120.31 L357.78,1120.29 L358.78,1120.27 L359.78,1120.24 L360.78,1120.22 L361.78,1120.19 L362.78,1120.16 L363.78,1120.13 L364.78,1120.09 L365.78,1120.06 L366.78,1120.02 L367.78,1119.99 L368.78,1119.95 L369.78,1119.91 L370.78,1119.87 L371.78,1119.83 L372.78,1119.79 L373.78,1119.74 L374.78,1119.70 L375.78,1119.65 L376.78,1119.61 L377.78,1119.56 L378.78,1119.51 L379.78,1119.46 L380.78,1119.41 L381.78,1119.36 L382.78,1119.31 L383.78,1119.26 L384.78,1119.20 L385.78,1119.15 L386.78,1119.09 L387.78,1119.04 L388.78,1118.98 L389.78,1118.93 L390.78,1118.87 L391.78,1118.82 L392.78,1118.76 L393.78,1118.70 L394.78,1118.65 L395.78,1118.59 L396.78,1118.53 L397.78,1118.47 L398.78,1118.41 L399.78,1118.36 L400.78,1118.30 L401.78,1118.24 L402.78,1118.18 L403.78,1118.12 L404.78,1118.06 L405.78,1118.01 L406.78,1117.95 L407.78,1117.89 L408.78,1117.83 L409.78,1117.77 L410.78,1117.71 L411.78,1117.66 L412.78,1117.60 L413.78,1117.54 L414.78,1117.48 L415.78,1117.42 L416.78,1117.36 L417.78,1117.30 L418.78,1117.25 L419.78,1117.19 L420.78,1117.13 L421.78,1117.07 L422.78,1117.01 L423.78,1116.95 L424.78,1116.89 L425.78,1116.83 L426.78,1116.77 L427.78,1116.72 L428.78,1116.66 L429.78,1116.60 L430.78,1116.54 L431.78,1116.48 L432.78,1116.42 L433.78,1116.36 L434.78,1116.30 L435.78,1116.24 L436.78,1116.18 L437.78,1116.12 L438.78,1116.06 L439.78,1116.00 L440.78,1115.94 L441.78,1115.89 L442.78,1115.83 L443.78,1115.77 L444.78,1115.71 L445.78,1115.65 L446.78,1115.59 L447.78,1115.53 L448.78,1115.47 L449.78,1115.41 L450.78,1115.35 L451.79,1115.29 L452.79,1115.23 L453.79,1115.17 L454.79,1115.11 L455.79,1115.05 L456.79,1114.99 L457.79,1114.93 L458.79,1114.87 L459.79,1114.81 L460.79,1114.75 L461.79,1114.69 L462.79,1114.62 L463.79,1114.56 L464.79,1114.50 L465.79,1114.44 L466.79,1114.38 L467.79,1114.32 L468.79,1114.26 L469.79,1114.20 L470.79,1114.14 L471.79,1114.08 L472.79,1114.02 L473.79,1113.96 L474.79,1113.90 L475.79,1113.83 L476.79,1113.77 L477.79,1113.71 L478.79,1113.65 L479.79,1113.59 L480.79,1113.53 L481.79,1113.47 L482.79,1113.40 L483.79,1113.34 L484.79,1113.28 L485.79,1113.22 L486.79,1113.16 L487.79,1113.10 L488.79,1113.03 L489.79,1112.97 L490.79,1112.91 L491.79,1112.85 L492.79,1112.79 L493.79,1112.72 L494.79,1112.66 L495.79,1112.60 L496.79,1112.54 L497.79,1112.48 L498.79,1112.41 L499.79,1112.35 L500.79,1112.29 L501.79,1112.23 L502.79,1112.16 L503.79,1112.10 L504.79,1112.04 L505.79,1111.97 L506.79,1111.91 L507.79,1111.85 L508.79,1111.78 L509.79,1111.72 L510.79,1111.66 L511.79,1111.60 L512.79,1111.53 L513.79,1111.47 L514.79,1111.40 L515.79,1111.34 L516.79,1111.28 L517.79,1111.21 L518.79,1111.15 L519.79,1111.09 L520.79,1111.02 L521.79,1110.96 L522.79,1110.89 L523.79,1110.83 L524.79,1110.77 L525.79,1110.70 L526.79,1110.64 L527.79,1110.57 L528.79,1110.51 L529.79,1110.44 L530.79,1110.38 L531.79,1110.32 L532.79,1110.25 L533.79,1110.19 L534.79,1110.12 L535.79,1110.06 L536.79,1109.99 L537.79,1109.93 L538.79,1109.86 L539.79,1109.80 L540.79,1109.73 L541.79,1109.66 L542.79,1109.60 L543.79,1109.53 L544.79,1109.47 L545.79,1109.40 L546.79,1109.34 L547.79,1109.27 L548.79,1109.20 L549.80,1109.14 L550.80,1109.07 L551.80,1109.01 L552.80,1108.94 L553.80,1108.87 L554.80,1108.81 L555.80,1108.74 L556.80,1108.67 L557.80,1108.61 L558.80,1108.54 L559.80,1108.47 L560.80,1108.41 L561.80,1108.34 L562.80,1108.27 L563.80,1108.20 L564.80,1108.14 L565.80,1108.07 L566.80,1108.00 L567.80,1107.94 L568.80,1107.87 L569.80,1107.80 L570.80,1107.73 L571.80,1107.66 L572.80,1107.60 L573.80,1107.53 L574.80,1107.46 L575.80,1107.39 L576.80,1107.32 L577.80,1107.25 L578.80,1107.19 L579.80,1107.12 L580.80,1107.05 L581.80,1106.98 L582.80,1106.91 L583.80,1106.84 L584.80,1106.77 L585.80,1106.70 L586.80,1106.63 L587.80,1106.57 L588.80,1106.50 L589.80,1106.43 L590.80,1106.36 L591.80,1106.29 L592.80,1106.22 L593.80,1106.15 L594.80,1106.08 L595.80,1106.01 L596.80,1105.94 L597.80,1105.87 L598.80,1105.80" fill="none" stroke="#ff1010" stroke-width="1.6"/>
<ellipse cx="333.25" cy="1119.75" rx="3.8" ry="2.9" fill="#000"/>
<rect x="86.6" y="848.5" width="531.4" height="340.0999999999999" fill="none" stroke="#333" stroke-width="1.4"/>
<line x1="85.89999999999999" y1="1188.8999999999999" x2="618.7" y2="1188.8999999999999" stroke="#3a3a3a" stroke-width="1.8"/>
<line x1="144.40" y1="1188.6" x2="144.40" y2="1196.1" stroke="#333" stroke-width="1.1"/>
<text transform="matrix(1.3700,0,0,1,136.24,1213.35)" font-size="10.60" fill="#222">20</text>
<line x1="239.08" y1="1188.6" x2="239.08" y2="1196.1" stroke="#333" stroke-width="1.1"/>
<text transform="matrix(1.3700,0,0,1,231.01,1213.35)" font-size="10.60" fill="#222">30</text>
<line x1="333.76" y1="1188.6" x2="333.76" y2="1196.1" stroke="#333" stroke-width="1.1"/>
<text transform="matrix(1.3700,0,0,1,325.80,1213.35)" font-size="10.60" fill="#222">40</text>
<line x1="428.44" y1="1188.6" x2="428.44" y2="1196.1" stroke="#333" stroke-width="1.1"/>
<text transform="matrix(1.3700,0,0,1,420.36,1213.35)" font-size="10.60" fill="#222">50</text>
<line x1="523.12" y1="1188.6" x2="523.12" y2="1196.1" stroke="#333" stroke-width="1.1"/>
<text transform="matrix(1.3700,0,0,1,514.96,1213.35)" font-size="10.60" fill="#222">60</text>
<line x1="617.80" y1="1188.6" x2="617.80" y2="1196.1" stroke="#333" stroke-width="1.1"/>
<text transform="matrix(1.3700,0,0,1,609.63,1213.35)" font-size="10.60" fill="#222">70</text>
<line x1="77.90" y1="1119.70" x2="86.6" y2="1119.70" stroke="#333" stroke-width="1.1"/>
<text transform="matrix(1.3700,0,0,1,49.08,1124.65)" font-size="10.60" fill="#222">1.0</text>
<line x1="77.90" y1="1036.75" x2="86.6" y2="1036.75" stroke="#333" stroke-width="1.1"/>
<text transform="matrix(1.3700,0,0,1,49.12,1041.64)" font-size="10.60" fill="#222">1.5</text>
<line x1="77.90" y1="953.80" x2="86.6" y2="953.80" stroke="#333" stroke-width="1.1"/>
<text transform="matrix(1.3700,0,0,1,49.08,958.75)" font-size="10.60" fill="#222">2.0</text>
<line x1="77.90" y1="870.85" x2="86.6" y2="870.85" stroke="#333" stroke-width="1.1"/>
<text transform="matrix(1.3700,0,0,1,49.12,875.80)" font-size="10.60" fill="#222">2.5</text>
<line x1="618" y1="1176.30" x2="626.70" y2="1176.30" stroke="#333" stroke-width="1.1"/>
<text transform="matrix(1.3700,0,0,1,634.93,1181.35)" font-size="10.60" fill="#222">0.00</text>
<line x1="618" y1="1104.22" x2="626.70" y2="1104.22" stroke="#333" stroke-width="1.1"/>
<text transform="matrix(1.3700,0,0,1,634.93,1109.27)" font-size="10.60" fill="#222">0.01</text>
<line x1="618" y1="1032.14" x2="626.70" y2="1032.14" stroke="#333" stroke-width="1.1"/>
<text transform="matrix(1.3700,0,0,1,634.93,1037.19)" font-size="10.60" fill="#222">0.02</text>
<line x1="618" y1="960.06" x2="626.70" y2="960.06" stroke="#333" stroke-width="1.1"/>
<text transform="matrix(1.3700,0,0,1,634.93,965.11)" font-size="10.60" fill="#222">0.03</text>
<line x1="618" y1="887.98" x2="626.70" y2="887.98" stroke="#333" stroke-width="1.1"/>
<text transform="matrix(1.3700,0,0,1,634.93,893.03)" font-size="10.60" fill="#222">0.04</text>
<text transform="matrix(1.3167,0,0,1,337.74,1238.80)" font-size="10.76" fill="#222">HDL</text>
<line x1="96.3" y1="876.5" x2="117.6" y2="876.5" stroke="#ff2a2a" stroke-width="1.05"/>
<line x1="96.3" y1="905.2" x2="119" y2="905.2" stroke="#888" stroke-width="1.6" stroke-dasharray="5.2 4.4"/>
<text transform="matrix(0.9479,0,0,1,131.47,879.12)" font-size="13.30" fill="#1a1a1a" stroke="#1a1a1a" stroke-width="0.25">Estimation</text>
<text transform="matrix(0.8680,0,0,1,137.71,902.37)" font-size="13.30" fill="#1a1a1a" stroke="#1a1a1a" stroke-width="0.25">95% CI</text>
<text transform="matrix(1.0678,0,0,1,312.66,1142.13)" font-size="11.91" fill="#1a1a1a" stroke="#1a1a1a" stroke-width="0.25">refvalue=40</text>
<text transform="translate(10.30,1116.19) rotate(-90) scale(0.9454,1)" font-size="12.79" fill="#1a1a1a" stroke="#1a1a1a" stroke-width="0.2">HR whrere the refvalue for HDL is 40</text>
<text transform="matrix(0.9927,0,0,1,4.38,844.11)" font-size="14.60" fill="#1a1a1a" stroke="#1a1a1a" stroke-width="0.2">c</text>
</svg>
</body></html>
